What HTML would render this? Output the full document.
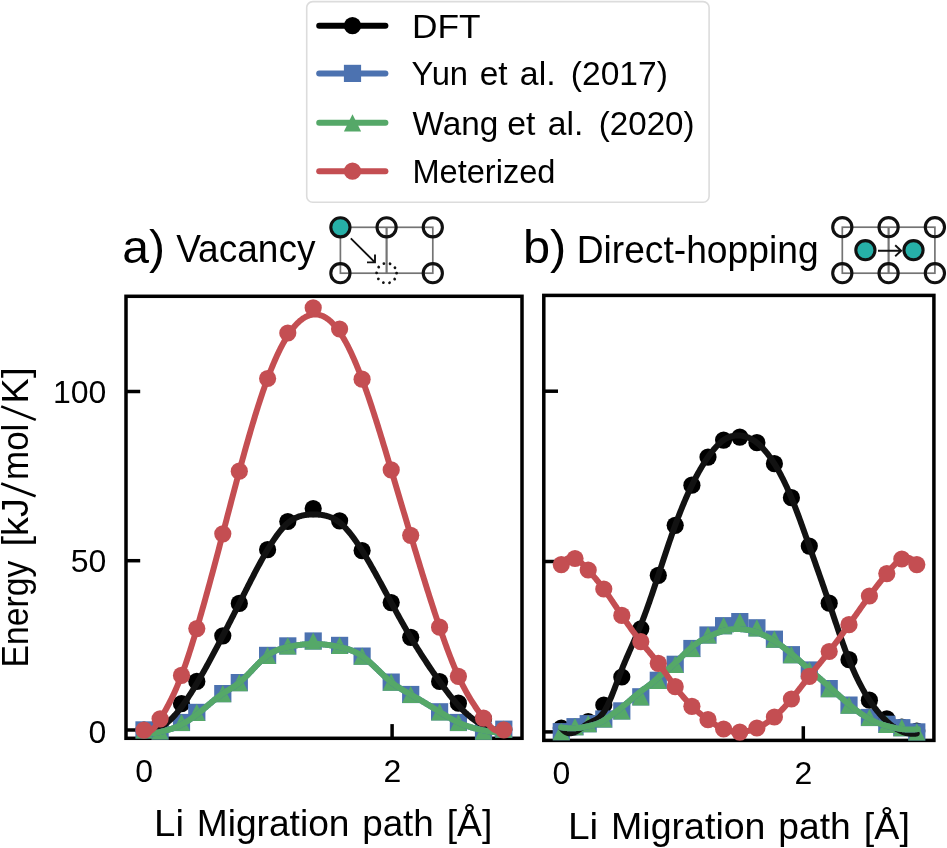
<!DOCTYPE html>
<html><head><meta charset="utf-8"><style>html,body{margin:0;padding:0;background:#fff;}svg{display:block;will-change:transform;}text{font-family:"Liberation Sans",sans-serif;fill:#000;}</style></head><body>
<svg width="947" height="848" viewBox="0 0 947 848">
<rect width="947" height="848" fill="#fff"/>
<rect x="306.7" y="1.6" width="402.4" height="200.7" rx="6" ry="6" fill="#fff" stroke="#dcdcdc" stroke-width="1.6"/>
<line x1="319.2" y1="25.7" x2="385.4" y2="25.7" stroke="#000000" stroke-width="6.0" stroke-linecap="round"/>
<circle cx="352.50" cy="25.70" r="8.60" fill="#000000"/>
<line x1="319.2" y1="73.4" x2="385.4" y2="73.4" stroke="#4C72B0" stroke-width="6.0" stroke-linecap="round"/>
<rect x="343.90" y="64.80" width="17.20" height="17.20" fill="#4C72B0"/>
<line x1="319.2" y1="122.8" x2="385.4" y2="122.8" stroke="#55A868" stroke-width="6.0" stroke-linecap="round"/>
<path d="M352.50,114.20 L343.90,131.40 L361.10,131.40 Z" fill="#55A868"/>
<line x1="319.2" y1="171.2" x2="385.4" y2="171.2" stroke="#C44E52" stroke-width="6.0" stroke-linecap="round"/>
<circle cx="352.50" cy="171.20" r="8.60" fill="#C44E52"/>
<text x="412.00" y="37.7" font-size="33.4" textLength="68.61" lengthAdjust="spacingAndGlyphs">DFT</text>
<text x="411.60" y="85.1" font-size="33.4" textLength="56.46" lengthAdjust="spacingAndGlyphs">Yun</text>
<text x="479.78" y="85.1" font-size="33.4" textLength="27.86" lengthAdjust="spacingAndGlyphs">et</text>
<text x="519.86" y="85.1" font-size="33.4" textLength="35.73" lengthAdjust="spacingAndGlyphs">al.</text>
<text x="570.82" y="85.1" font-size="33.4" textLength="97.06" lengthAdjust="spacingAndGlyphs">(2017)</text>
<text x="412.46" y="134.6" font-size="33.4" textLength="85.86" lengthAdjust="spacingAndGlyphs">Wang</text>
<text x="507.16" y="134.6" font-size="33.4" textLength="28.18" lengthAdjust="spacingAndGlyphs">et</text>
<text x="547.87" y="134.6" font-size="33.4" textLength="35.50" lengthAdjust="spacingAndGlyphs">al.</text>
<text x="598.74" y="134.6" font-size="33.4" textLength="95.81" lengthAdjust="spacingAndGlyphs">(2020)</text>
<text x="412.43" y="182.8" font-size="33.4" textLength="142.97" lengthAdjust="spacingAndGlyphs">Meterized</text>
<text x="122.26" y="262.8" font-size="46.8" textLength="42.72" lengthAdjust="spacingAndGlyphs">a)</text>
<text x="176.14" y="262.4" font-size="38.5" textLength="139.33" lengthAdjust="spacingAndGlyphs">Vacancy</text>
<text x="522.96" y="262.6" font-size="46.2" textLength="43.37" lengthAdjust="spacingAndGlyphs">b)</text>
<text x="576.65" y="262.7" font-size="38.4" textLength="241.95" lengthAdjust="spacingAndGlyphs">Direct-hopping</text>
<rect x="340.4" y="227.3" width="92.4" height="45.9" fill="none" stroke="#747474" stroke-width="1.7"/>
<line x1="386.59999999999997" y1="227.3" x2="386.59999999999997" y2="273.2" stroke="#747474" stroke-width="2.2"/>
<circle cx="386.6" cy="227.3" r="9.6" fill="none" stroke="#111" stroke-width="3.1"/>
<circle cx="432.8" cy="227.3" r="9.6" fill="none" stroke="#111" stroke-width="3.1"/>
<circle cx="340.4" cy="273.2" r="9.6" fill="none" stroke="#111" stroke-width="3.1"/>
<circle cx="432.8" cy="273.2" r="9.6" fill="none" stroke="#111" stroke-width="3.1"/>
<circle cx="340.4" cy="227.3" r="9.6" fill="#26B0A8" stroke="#111" stroke-width="3.1"/>
<circle cx="386.6" cy="273.2" r="10" fill="none" stroke="#111" stroke-width="2.8" stroke-linecap="round" stroke-dasharray="0.01 6.2832"/>
<path d="M350.8,238.4 L375,262.4 M367,262.4 L375,262.4 L375,254.6" fill="none" stroke="#111" stroke-width="1.9"/>
<rect x="842.3" y="227.2" width="92.6" height="46.0" fill="none" stroke="#747474" stroke-width="1.7"/>
<line x1="888.5999999999999" y1="227.2" x2="888.5999999999999" y2="273.2" stroke="#747474" stroke-width="2.2"/>
<circle cx="842.3" cy="227.2" r="9.6" fill="none" stroke="#111" stroke-width="3.1"/>
<circle cx="888.6" cy="227.2" r="9.6" fill="none" stroke="#111" stroke-width="3.1"/>
<circle cx="934.9" cy="227.2" r="9.6" fill="none" stroke="#111" stroke-width="3.1"/>
<circle cx="842.3" cy="273.2" r="9.6" fill="none" stroke="#111" stroke-width="3.1"/>
<circle cx="888.6" cy="273.2" r="9.6" fill="none" stroke="#111" stroke-width="3.1"/>
<circle cx="934.9" cy="273.2" r="9.6" fill="none" stroke="#111" stroke-width="3.1"/>
<circle cx="865.4" cy="250.2" r="9.6" fill="#26B0A8" stroke="#111" stroke-width="3.1"/>
<circle cx="913.5" cy="250.2" r="9.6" fill="#26B0A8" stroke="#111" stroke-width="3.1"/>
<path d="M878,250.7 L901.2,250.7 M895.2,245.2 L901.2,250.7 L895.2,256.2" fill="none" stroke="#111" stroke-width="1.9"/>
<rect x="126" y="296.3" width="396" height="441.99999999999994" fill="none" stroke="#000" stroke-width="3.5" stroke-linejoin="miter"/>
<line x1="126" y1="391.5" x2="140.2" y2="391.5" stroke="#000" stroke-width="3.5"/>
<line x1="126" y1="560.7" x2="140.2" y2="560.7" stroke="#000" stroke-width="3.5"/>
<line x1="126" y1="730.0" x2="140.2" y2="730.0" stroke="#000" stroke-width="3.5"/>
<line x1="144.1" y1="738.3" x2="144.1" y2="724.0999999999999" stroke="#000" stroke-width="3.5"/>
<line x1="392.1" y1="738.3" x2="392.1" y2="724.0999999999999" stroke="#000" stroke-width="3.5"/>
<rect x="543.8" y="295.4" width="390.1" height="445.0" fill="none" stroke="#000" stroke-width="3.5" stroke-linejoin="miter"/>
<line x1="543.8" y1="391.2" x2="558.0" y2="391.2" stroke="#000" stroke-width="3.5"/>
<line x1="543.8" y1="561.5" x2="558.0" y2="561.5" stroke="#000" stroke-width="3.5"/>
<line x1="543.8" y1="731.9" x2="558.0" y2="731.9" stroke="#000" stroke-width="3.5"/>
<line x1="561.5" y1="740.4" x2="561.5" y2="726.1999999999999" stroke="#000" stroke-width="3.5"/>
<line x1="803.3" y1="740.4" x2="803.3" y2="726.1999999999999" stroke="#000" stroke-width="3.5"/>
<circle cx="144.00" cy="730.00" r="8.60" fill="#000000"/>
<circle cx="160.10" cy="724.00" r="8.60" fill="#000000"/>
<circle cx="181.50" cy="703.70" r="8.60" fill="#000000"/>
<circle cx="196.80" cy="681.40" r="8.60" fill="#000000"/>
<circle cx="222.80" cy="635.80" r="8.60" fill="#000000"/>
<circle cx="239.30" cy="603.40" r="8.60" fill="#000000"/>
<circle cx="267.60" cy="549.70" r="8.60" fill="#000000"/>
<circle cx="287.80" cy="521.50" r="8.60" fill="#000000"/>
<circle cx="313.20" cy="508.60" r="8.60" fill="#000000"/>
<circle cx="339.60" cy="520.80" r="8.60" fill="#000000"/>
<circle cx="362.10" cy="550.60" r="8.60" fill="#000000"/>
<circle cx="391.20" cy="602.60" r="8.60" fill="#000000"/>
<circle cx="410.70" cy="637.30" r="8.60" fill="#000000"/>
<circle cx="439.60" cy="681.50" r="8.60" fill="#000000"/>
<circle cx="458.40" cy="703.20" r="8.60" fill="#000000"/>
<circle cx="483.50" cy="719.00" r="8.60" fill="#000000"/>
<circle cx="503.80" cy="729.80" r="8.60" fill="#000000"/>
<rect x="135.40" y="721.30" width="17.20" height="17.20" fill="#4C72B0"/>
<rect x="151.50" y="722.40" width="17.20" height="17.20" fill="#4C72B0"/>
<rect x="172.90" y="713.90" width="17.20" height="17.20" fill="#4C72B0"/>
<rect x="188.20" y="703.80" width="17.20" height="17.20" fill="#4C72B0"/>
<rect x="214.20" y="685.00" width="17.20" height="17.20" fill="#4C72B0"/>
<rect x="230.70" y="674.00" width="17.20" height="17.20" fill="#4C72B0"/>
<rect x="259.00" y="646.80" width="17.20" height="17.20" fill="#4C72B0"/>
<rect x="279.20" y="637.30" width="17.20" height="17.20" fill="#4C72B0"/>
<rect x="304.60" y="632.40" width="17.20" height="17.20" fill="#4C72B0"/>
<rect x="331.00" y="636.80" width="17.20" height="17.20" fill="#4C72B0"/>
<rect x="353.50" y="647.50" width="17.20" height="17.20" fill="#4C72B0"/>
<rect x="382.60" y="673.50" width="17.20" height="17.20" fill="#4C72B0"/>
<rect x="402.10" y="685.90" width="17.20" height="17.20" fill="#4C72B0"/>
<rect x="431.00" y="703.20" width="17.20" height="17.20" fill="#4C72B0"/>
<rect x="449.80" y="713.90" width="17.20" height="17.20" fill="#4C72B0"/>
<rect x="474.90" y="722.60" width="17.20" height="17.20" fill="#4C72B0"/>
<rect x="495.20" y="720.60" width="17.20" height="17.20" fill="#4C72B0"/>
<path d="M144.00,721.30 L135.40,738.50 L152.60,738.50 Z" fill="#55A868"/>
<path d="M160.10,722.40 L151.50,739.60 L168.70,739.60 Z" fill="#55A868"/>
<path d="M181.50,713.90 L172.90,731.10 L190.10,731.10 Z" fill="#55A868"/>
<path d="M196.80,703.80 L188.20,721.00 L205.40,721.00 Z" fill="#55A868"/>
<path d="M222.80,685.00 L214.20,702.20 L231.40,702.20 Z" fill="#55A868"/>
<path d="M239.30,674.00 L230.70,691.20 L247.90,691.20 Z" fill="#55A868"/>
<path d="M267.60,646.80 L259.00,664.00 L276.20,664.00 Z" fill="#55A868"/>
<path d="M287.80,637.30 L279.20,654.50 L296.40,654.50 Z" fill="#55A868"/>
<path d="M313.20,632.40 L304.60,649.60 L321.80,649.60 Z" fill="#55A868"/>
<path d="M339.60,636.80 L331.00,654.00 L348.20,654.00 Z" fill="#55A868"/>
<path d="M362.10,647.50 L353.50,664.70 L370.70,664.70 Z" fill="#55A868"/>
<path d="M391.20,673.50 L382.60,690.70 L399.80,690.70 Z" fill="#55A868"/>
<path d="M410.70,685.90 L402.10,703.10 L419.30,703.10 Z" fill="#55A868"/>
<path d="M439.60,703.20 L431.00,720.40 L448.20,720.40 Z" fill="#55A868"/>
<path d="M458.40,713.90 L449.80,731.10 L467.00,731.10 Z" fill="#55A868"/>
<path d="M483.50,722.60 L474.90,739.80 L492.10,739.80 Z" fill="#55A868"/>
<path d="M503.80,720.60 L495.20,737.80 L512.40,737.80 Z" fill="#55A868"/>
<circle cx="561.30" cy="728.00" r="8.60" fill="#000000"/>
<circle cx="575.00" cy="727.00" r="8.60" fill="#000000"/>
<circle cx="588.20" cy="721.70" r="8.60" fill="#000000"/>
<circle cx="603.80" cy="705.00" r="8.60" fill="#000000"/>
<circle cx="621.80" cy="677.00" r="8.60" fill="#000000"/>
<circle cx="640.80" cy="628.80" r="8.60" fill="#000000"/>
<circle cx="658.30" cy="575.30" r="8.60" fill="#000000"/>
<circle cx="675.20" cy="525.30" r="8.60" fill="#000000"/>
<circle cx="691.90" cy="485.20" r="8.60" fill="#000000"/>
<circle cx="708.00" cy="457.10" r="8.60" fill="#000000"/>
<circle cx="723.60" cy="440.10" r="8.60" fill="#000000"/>
<circle cx="739.80" cy="437.10" r="8.60" fill="#000000"/>
<circle cx="756.90" cy="442.70" r="8.60" fill="#000000"/>
<circle cx="774.40" cy="463.70" r="8.60" fill="#000000"/>
<circle cx="791.40" cy="497.70" r="8.60" fill="#000000"/>
<circle cx="809.30" cy="546.10" r="8.60" fill="#000000"/>
<circle cx="829.20" cy="603.20" r="8.60" fill="#000000"/>
<circle cx="849.00" cy="659.70" r="8.60" fill="#000000"/>
<circle cx="869.40" cy="700.20" r="8.60" fill="#000000"/>
<circle cx="886.80" cy="718.90" r="8.60" fill="#000000"/>
<circle cx="901.80" cy="727.00" r="8.60" fill="#000000"/>
<circle cx="916.80" cy="731.00" r="8.60" fill="#000000"/>
<rect x="552.70" y="723.10" width="17.20" height="17.20" fill="#4C72B0"/>
<rect x="566.40" y="718.10" width="17.20" height="17.20" fill="#4C72B0"/>
<rect x="579.60" y="715.10" width="17.20" height="17.20" fill="#4C72B0"/>
<rect x="595.20" y="710.40" width="17.20" height="17.20" fill="#4C72B0"/>
<rect x="613.20" y="702.30" width="17.20" height="17.20" fill="#4C72B0"/>
<rect x="632.20" y="688.20" width="17.20" height="17.20" fill="#4C72B0"/>
<rect x="649.70" y="671.70" width="17.20" height="17.20" fill="#4C72B0"/>
<rect x="666.60" y="655.70" width="17.20" height="17.20" fill="#4C72B0"/>
<rect x="683.30" y="639.90" width="17.20" height="17.20" fill="#4C72B0"/>
<rect x="699.40" y="626.40" width="17.20" height="17.20" fill="#4C72B0"/>
<rect x="715.00" y="617.10" width="17.20" height="17.20" fill="#4C72B0"/>
<rect x="731.20" y="613.00" width="17.20" height="17.20" fill="#4C72B0"/>
<rect x="748.30" y="619.20" width="17.20" height="17.20" fill="#4C72B0"/>
<rect x="765.80" y="630.60" width="17.20" height="17.20" fill="#4C72B0"/>
<rect x="782.80" y="646.10" width="17.20" height="17.20" fill="#4C72B0"/>
<rect x="800.70" y="661.40" width="17.20" height="17.20" fill="#4C72B0"/>
<rect x="820.60" y="680.00" width="17.20" height="17.20" fill="#4C72B0"/>
<rect x="840.40" y="696.50" width="17.20" height="17.20" fill="#4C72B0"/>
<rect x="860.80" y="708.90" width="17.20" height="17.20" fill="#4C72B0"/>
<rect x="878.20" y="715.70" width="17.20" height="17.20" fill="#4C72B0"/>
<rect x="893.20" y="719.10" width="17.20" height="17.20" fill="#4C72B0"/>
<rect x="908.20" y="723.30" width="17.20" height="17.20" fill="#4C72B0"/>
<path d="M561.30,723.10 L552.70,740.30 L569.90,740.30 Z" fill="#55A868"/>
<path d="M575.00,718.10 L566.40,735.30 L583.60,735.30 Z" fill="#55A868"/>
<path d="M588.20,715.10 L579.60,732.30 L596.80,732.30 Z" fill="#55A868"/>
<path d="M603.80,710.40 L595.20,727.60 L612.40,727.60 Z" fill="#55A868"/>
<path d="M621.80,702.30 L613.20,719.50 L630.40,719.50 Z" fill="#55A868"/>
<path d="M640.80,688.20 L632.20,705.40 L649.40,705.40 Z" fill="#55A868"/>
<path d="M658.30,671.70 L649.70,688.90 L666.90,688.90 Z" fill="#55A868"/>
<path d="M675.20,655.70 L666.60,672.90 L683.80,672.90 Z" fill="#55A868"/>
<path d="M691.90,639.90 L683.30,657.10 L700.50,657.10 Z" fill="#55A868"/>
<path d="M708.00,626.40 L699.40,643.60 L716.60,643.60 Z" fill="#55A868"/>
<path d="M723.60,617.10 L715.00,634.30 L732.20,634.30 Z" fill="#55A868"/>
<path d="M739.80,613.00 L731.20,630.20 L748.40,630.20 Z" fill="#55A868"/>
<path d="M756.90,619.20 L748.30,636.40 L765.50,636.40 Z" fill="#55A868"/>
<path d="M774.40,630.60 L765.80,647.80 L783.00,647.80 Z" fill="#55A868"/>
<path d="M791.40,646.10 L782.80,663.30 L800.00,663.30 Z" fill="#55A868"/>
<path d="M809.30,661.40 L800.70,678.60 L817.90,678.60 Z" fill="#55A868"/>
<path d="M829.20,680.00 L820.60,697.20 L837.80,697.20 Z" fill="#55A868"/>
<path d="M849.00,696.50 L840.40,713.70 L857.60,713.70 Z" fill="#55A868"/>
<path d="M869.40,708.90 L860.80,726.10 L878.00,726.10 Z" fill="#55A868"/>
<path d="M886.80,715.70 L878.20,732.90 L895.40,732.90 Z" fill="#55A868"/>
<path d="M901.80,719.10 L893.20,736.30 L910.40,736.30 Z" fill="#55A868"/>
<path d="M916.80,723.30 L908.20,740.50 L925.40,740.50 Z" fill="#55A868"/>
<path d="M144.00,731.00 L144.67,731.07 L145.33,731.11 L146.00,731.14 L146.67,731.15 L147.33,731.14 L148.00,731.12 L148.66,731.07 L149.33,731.01 L150.00,730.92 L150.66,730.82 L151.33,730.70 L152.00,730.56 L152.66,730.41 L153.33,730.23 L153.99,730.04 L154.66,729.83 L155.33,729.60 L155.99,729.36 L156.66,729.09 L157.33,728.81 L157.99,728.51 L158.66,728.19 L159.32,727.86 L159.99,727.50 L160.66,727.13 L161.32,726.75 L161.99,726.34 L162.66,725.92 L163.32,725.48 L163.99,725.02 L164.66,724.55 L165.32,724.05 L165.99,723.54 L166.65,723.02 L167.32,722.48 L167.99,721.91 L168.65,721.34 L169.32,720.74 L169.99,720.13 L170.65,719.50 L171.32,718.86 L171.98,718.20 L172.65,717.52 L173.32,716.83 L173.98,716.12 L174.65,715.39 L175.32,714.65 L175.98,713.89 L176.65,713.11 L177.31,712.32 L177.98,711.51 L178.65,710.69 L179.31,709.85 L179.98,709.00 L180.65,708.13 L181.31,707.25 L181.98,706.36 L182.65,705.45 L183.31,704.52 L183.98,703.59 L184.64,702.64 L185.31,701.68 L185.98,700.71 L186.64,699.72 L187.31,698.73 L187.98,697.72 L188.64,696.71 L189.31,695.68 L189.97,694.64 L190.64,693.59 L191.31,692.53 L191.97,691.47 L192.64,690.39 L193.31,689.31 L193.97,688.22 L194.64,687.12 L195.30,686.01 L195.97,684.90 L196.64,683.77 L197.30,682.65 L197.97,681.51 L198.64,680.37 L199.30,679.23 L199.97,678.07 L200.64,676.91 L201.30,675.75 L201.97,674.58 L202.63,673.40 L203.30,672.22 L203.97,671.04 L204.63,669.84 L205.30,668.65 L205.97,667.45 L206.63,666.24 L207.30,665.03 L207.96,663.81 L208.63,662.59 L209.30,661.37 L209.96,660.14 L210.63,658.91 L211.30,657.67 L211.96,656.43 L212.63,655.18 L213.29,653.94 L213.96,652.68 L214.63,651.43 L215.29,650.17 L215.96,648.91 L216.63,647.64 L217.29,646.38 L217.96,645.11 L218.63,643.83 L219.29,642.56 L219.96,641.28 L220.62,640.00 L221.29,638.71 L221.96,637.43 L222.62,636.14 L223.29,634.85 L223.96,633.56 L224.62,632.27 L225.29,630.98 L225.95,629.68 L226.62,628.38 L227.29,627.08 L227.95,625.78 L228.62,624.48 L229.29,623.17 L229.95,621.87 L230.62,620.56 L231.28,619.25 L231.95,617.94 L232.62,616.63 L233.28,615.32 L233.95,614.00 L234.62,612.69 L235.28,611.37 L235.95,610.05 L236.62,608.73 L237.28,607.41 L237.95,606.09 L238.61,604.76 L239.28,603.44 L239.95,602.11 L240.61,600.79 L241.28,599.46 L241.95,598.13 L242.61,596.80 L243.28,595.48 L243.94,594.15 L244.61,592.82 L245.28,591.50 L245.94,590.18 L246.61,588.85 L247.28,587.53 L247.94,586.22 L248.61,584.90 L249.27,583.59 L249.94,582.28 L250.61,580.97 L251.27,579.67 L251.94,578.37 L252.61,577.08 L253.27,575.79 L253.94,574.51 L254.61,573.23 L255.27,571.95 L255.94,570.69 L256.60,569.42 L257.27,568.17 L257.94,566.92 L258.60,565.67 L259.27,564.44 L259.94,563.21 L260.60,561.99 L261.27,560.78 L261.93,559.57 L262.60,558.38 L263.27,557.19 L263.93,556.01 L264.60,554.84 L265.27,553.68 L265.93,552.53 L266.60,551.39 L267.26,550.26 L267.93,549.15 L268.60,548.04 L269.26,546.94 L269.93,545.86 L270.60,544.79 L271.26,543.73 L271.93,542.69 L272.60,541.66 L273.26,540.64 L273.93,539.64 L274.59,538.66 L275.26,537.69 L275.93,536.73 L276.59,535.80 L277.26,534.88 L277.93,533.98 L278.59,533.09 L279.26,532.23 L279.92,531.38 L280.59,530.56 L281.26,529.75 L281.92,528.96 L282.59,528.20 L283.26,527.46 L283.92,526.74 L284.59,526.04 L285.25,525.36 L285.92,524.71 L286.59,524.08 L287.25,523.48 L287.92,522.90 L288.59,522.34 L289.25,521.81 L289.92,521.31 L290.59,520.82 L291.25,520.36 L291.92,519.93 L292.58,519.51 L293.25,519.12 L293.92,518.74 L294.58,518.39 L295.25,518.06 L295.92,517.74 L296.58,517.45 L297.25,517.17 L297.91,516.91 L298.58,516.67 L299.25,516.44 L299.91,516.23 L300.58,516.03 L301.25,515.85 L301.91,515.68 L302.58,515.53 L303.24,515.39 L303.91,515.26 L304.58,515.15 L305.24,515.04 L305.91,514.95 L306.58,514.87 L307.24,514.80 L307.91,514.73 L308.58,514.68 L309.24,514.63 L309.91,514.59 L310.57,514.56 L311.24,514.54 L311.91,514.52 L312.57,514.51 L313.24,514.50 L313.91,514.50 L314.57,514.50 L315.24,514.51 L315.90,514.52 L316.57,514.54 L317.24,514.57 L317.90,514.60 L318.57,514.64 L319.24,514.69 L319.90,514.75 L320.57,514.82 L321.23,514.89 L321.90,514.98 L322.57,515.08 L323.23,515.19 L323.90,515.31 L324.57,515.44 L325.23,515.58 L325.90,515.74 L326.57,515.91 L327.23,516.09 L327.90,516.29 L328.56,516.50 L329.23,516.72 L329.90,516.96 L330.56,517.22 L331.23,517.50 L331.90,517.79 L332.56,518.09 L333.23,518.42 L333.89,518.76 L334.56,519.12 L335.23,519.50 L335.89,519.90 L336.56,520.32 L337.23,520.76 L337.89,521.22 L338.56,521.70 L339.22,522.21 L339.89,522.73 L340.56,523.28 L341.22,523.85 L341.89,524.44 L342.56,525.05 L343.22,525.68 L343.89,526.34 L344.56,527.01 L345.22,527.70 L345.89,528.41 L346.55,529.14 L347.22,529.89 L347.89,530.66 L348.55,531.44 L349.22,532.24 L349.89,533.06 L350.55,533.90 L351.22,534.75 L351.88,535.61 L352.55,536.50 L353.22,537.39 L353.88,538.31 L354.55,539.23 L355.22,540.17 L355.88,541.12 L356.55,542.09 L357.21,543.07 L357.88,544.06 L358.55,545.06 L359.21,546.08 L359.88,547.11 L360.55,548.14 L361.21,549.19 L361.88,550.25 L362.55,551.31 L363.21,552.39 L363.88,553.48 L364.54,554.57 L365.21,555.67 L365.88,556.79 L366.54,557.91 L367.21,559.03 L367.88,560.17 L368.54,561.31 L369.21,562.46 L369.87,563.61 L370.54,564.78 L371.21,565.95 L371.87,567.12 L372.54,568.30 L373.21,569.49 L373.87,570.68 L374.54,571.87 L375.20,573.07 L375.87,574.28 L376.54,575.49 L377.20,576.70 L377.87,577.92 L378.54,579.14 L379.20,580.36 L379.87,581.59 L380.54,582.81 L381.20,584.04 L381.87,585.28 L382.53,586.51 L383.20,587.75 L383.87,588.98 L384.53,590.22 L385.20,591.46 L385.87,592.70 L386.53,593.94 L387.20,595.18 L387.86,596.41 L388.53,597.65 L389.20,598.89 L389.86,600.13 L390.53,601.36 L391.20,602.59 L391.86,603.82 L392.53,605.05 L393.19,606.28 L393.86,607.50 L394.53,608.72 L395.19,609.94 L395.86,611.16 L396.53,612.37 L397.19,613.58 L397.86,614.79 L398.53,616.00 L399.19,617.20 L399.86,618.39 L400.52,619.59 L401.19,620.78 L401.86,621.97 L402.52,623.15 L403.19,624.33 L403.86,625.50 L404.52,626.67 L405.19,627.84 L405.85,629.00 L406.52,630.16 L407.19,631.31 L407.85,632.46 L408.52,633.60 L409.19,634.74 L409.85,635.87 L410.52,636.99 L411.18,638.12 L411.85,639.23 L412.52,640.34 L413.18,641.45 L413.85,642.54 L414.52,643.64 L415.18,644.73 L415.85,645.81 L416.52,646.89 L417.18,647.96 L417.85,649.03 L418.51,650.10 L419.18,651.15 L419.85,652.21 L420.51,653.26 L421.18,654.30 L421.85,655.34 L422.51,656.38 L423.18,657.41 L423.84,658.43 L424.51,659.45 L425.18,660.47 L425.84,661.48 L426.51,662.49 L427.18,663.50 L427.84,664.49 L428.51,665.49 L429.17,666.48 L429.84,667.47 L430.51,668.45 L431.17,669.43 L431.84,670.41 L432.51,671.38 L433.17,672.35 L433.84,673.31 L434.51,674.27 L435.17,675.23 L435.84,676.18 L436.50,677.13 L437.17,678.08 L437.84,679.02 L438.50,679.96 L439.17,680.90 L439.84,681.83 L440.50,682.76 L441.17,683.68 L441.83,684.61 L442.50,685.52 L443.17,686.44 L443.83,687.35 L444.50,688.25 L445.17,689.15 L445.83,690.04 L446.50,690.93 L447.16,691.81 L447.83,692.69 L448.50,693.55 L449.16,694.42 L449.83,695.27 L450.50,696.12 L451.16,696.96 L451.83,697.79 L452.50,698.61 L453.16,699.42 L453.83,700.23 L454.49,701.03 L455.16,701.81 L455.83,702.59 L456.49,703.36 L457.16,704.12 L457.83,704.86 L458.49,705.60 L459.16,706.33 L459.82,707.04 L460.49,707.74 L461.16,708.44 L461.82,709.12 L462.49,709.79 L463.16,710.45 L463.82,711.10 L464.49,711.74 L465.15,712.37 L465.82,712.98 L466.49,713.59 L467.15,714.19 L467.82,714.77 L468.49,715.35 L469.15,715.91 L469.82,716.46 L470.49,717.01 L471.15,717.54 L471.82,718.06 L472.48,718.57 L473.15,719.07 L473.82,719.56 L474.48,720.04 L475.15,720.51 L475.82,720.97 L476.48,721.41 L477.15,721.85 L477.81,722.28 L478.48,722.69 L479.15,723.10 L479.81,723.50 L480.48,723.88 L481.15,724.26 L481.81,724.62 L482.48,724.98 L483.14,725.32 L483.81,725.65 L484.48,725.98 L485.14,726.29 L485.81,726.60 L486.48,726.89 L487.14,727.17 L487.81,727.44 L488.48,727.71 L489.14,727.96 L489.81,728.20 L490.47,728.43 L491.14,728.66 L491.81,728.87 L492.47,729.07 L493.14,729.26 L493.81,729.45 L494.47,729.62 L495.14,729.78 L495.80,729.93 L496.47,730.08 L497.14,730.21 L497.80,730.33 L498.47,730.45 L499.14,730.55 L499.80,730.64 L500.47,730.73 L501.13,730.80 L501.80,730.87 L502.47,730.92 L503.13,730.96 L503.80,731.00" fill="none" stroke="#121212" stroke-width="6.0" stroke-linecap="round" stroke-linejoin="round"/>
<path d="M141.50,727.80 L142.17,728.56 L142.83,729.25 L143.50,729.87 L144.16,730.44 L144.83,730.94 L145.50,731.39 L146.16,731.79 L146.83,732.13 L147.49,732.43 L148.16,732.67 L148.83,732.88 L149.49,733.04 L150.16,733.16 L150.82,733.25 L151.49,733.30 L152.16,733.32 L152.82,733.32 L153.49,733.28 L154.16,733.22 L154.82,733.14 L155.49,733.04 L156.15,732.92 L156.82,732.78 L157.49,732.64 L158.15,732.48 L158.82,732.32 L159.48,732.16 L160.15,731.99 L160.82,731.82 L161.48,731.65 L162.15,731.48 L162.81,731.31 L163.48,731.13 L164.15,730.96 L164.81,730.78 L165.48,730.60 L166.14,730.42 L166.81,730.23 L167.48,730.04 L168.14,729.85 L168.81,729.65 L169.47,729.44 L170.14,729.23 L170.81,729.02 L171.47,728.80 L172.14,728.57 L172.80,728.33 L173.47,728.09 L174.14,727.84 L174.80,727.58 L175.47,727.31 L176.14,727.03 L176.80,726.75 L177.47,726.46 L178.13,726.15 L178.80,725.84 L179.47,725.53 L180.13,725.20 L180.80,724.86 L181.46,724.52 L182.13,724.17 L182.80,723.81 L183.46,723.44 L184.13,723.06 L184.79,722.68 L185.46,722.29 L186.13,721.89 L186.79,721.48 L187.46,721.07 L188.12,720.64 L188.79,720.21 L189.46,719.78 L190.12,719.33 L190.79,718.88 L191.45,718.42 L192.12,717.96 L192.79,717.49 L193.45,717.01 L194.12,716.52 L194.78,716.03 L195.45,715.53 L196.12,715.02 L196.78,714.51 L197.45,714.00 L198.11,713.47 L198.78,712.94 L199.45,712.41 L200.11,711.87 L200.78,711.33 L201.45,710.78 L202.11,710.23 L202.78,709.67 L203.44,709.12 L204.11,708.56 L204.78,708.00 L205.44,707.44 L206.11,706.87 L206.77,706.31 L207.44,705.75 L208.11,705.18 L208.77,704.62 L209.44,704.06 L210.10,703.50 L210.77,702.94 L211.44,702.38 L212.10,701.82 L212.77,701.27 L213.43,700.72 L214.10,700.18 L214.77,699.64 L215.43,699.10 L216.10,698.57 L216.76,698.05 L217.43,697.53 L218.10,697.01 L218.76,696.51 L219.43,696.01 L220.09,695.52 L220.76,695.03 L221.43,694.55 L222.09,694.09 L222.76,693.63 L223.43,693.18 L224.09,692.74 L224.76,692.30 L225.42,691.88 L226.09,691.45 L226.76,691.04 L227.42,690.62 L228.09,690.21 L228.75,689.80 L229.42,689.39 L230.09,688.97 L230.75,688.56 L231.42,688.14 L232.08,687.72 L232.75,687.29 L233.42,686.86 L234.08,686.42 L234.75,685.97 L235.41,685.51 L236.08,685.04 L236.75,684.56 L237.41,684.07 L238.08,683.57 L238.74,683.05 L239.41,682.51 L240.08,681.96 L240.74,681.39 L241.41,680.81 L242.07,680.21 L242.74,679.60 L243.41,678.98 L244.07,678.35 L244.74,677.70 L245.41,677.05 L246.07,676.39 L246.74,675.72 L247.40,675.04 L248.07,674.36 L248.74,673.67 L249.40,672.98 L250.07,672.28 L250.73,671.58 L251.40,670.87 L252.07,670.17 L252.73,669.47 L253.40,668.76 L254.06,668.06 L254.73,667.36 L255.40,666.66 L256.06,665.97 L256.73,665.28 L257.39,664.60 L258.06,663.92 L258.73,663.25 L259.39,662.58 L260.06,661.93 L260.72,661.29 L261.39,660.65 L262.06,660.03 L262.72,659.42 L263.39,658.82 L264.05,658.24 L264.72,657.67 L265.39,657.12 L266.05,656.58 L266.72,656.06 L267.39,655.56 L268.05,655.07 L268.72,654.61 L269.38,654.16 L270.05,653.74 L270.72,653.32 L271.38,652.93 L272.05,652.55 L272.71,652.19 L273.38,651.84 L274.05,651.51 L274.71,651.19 L275.38,650.88 L276.04,650.59 L276.71,650.31 L277.38,650.04 L278.04,649.78 L278.71,649.54 L279.37,649.30 L280.04,649.08 L280.71,648.86 L281.37,648.65 L282.04,648.45 L282.70,648.26 L283.37,648.08 L284.04,647.90 L284.70,647.73 L285.37,647.56 L286.03,647.40 L286.70,647.25 L287.37,647.10 L288.03,646.95 L288.70,646.80 L289.36,646.66 L290.03,646.52 L290.70,646.39 L291.36,646.26 L292.03,646.13 L292.70,646.01 L293.36,645.88 L294.03,645.77 L294.69,645.65 L295.36,645.54 L296.03,645.43 L296.69,645.33 L297.36,645.23 L298.02,645.14 L298.69,645.04 L299.36,644.95 L300.02,644.87 L300.69,644.79 L301.35,644.71 L302.02,644.64 L302.69,644.57 L303.35,644.50 L304.02,644.44 L304.68,644.38 L305.35,644.33 L306.02,644.28 L306.68,644.23 L307.35,644.19 L308.01,644.15 L308.68,644.12 L309.35,644.09 L310.01,644.06 L310.68,644.04 L311.34,644.02 L312.01,644.01 L312.68,644.00 L313.34,644.00 L314.01,644.00 L314.68,644.00 L315.34,644.01 L316.01,644.03 L316.67,644.04 L317.34,644.06 L318.01,644.09 L318.67,644.12 L319.34,644.15 L320.00,644.19 L320.67,644.23 L321.34,644.28 L322.00,644.33 L322.67,644.38 L323.33,644.44 L324.00,644.50 L324.67,644.57 L325.33,644.64 L326.00,644.71 L326.66,644.79 L327.33,644.87 L328.00,644.95 L328.66,645.04 L329.33,645.13 L329.99,645.23 L330.66,645.33 L331.33,645.43 L331.99,645.54 L332.66,645.65 L333.32,645.76 L333.99,645.88 L334.66,646.00 L335.32,646.12 L335.99,646.25 L336.66,646.38 L337.32,646.52 L337.99,646.65 L338.65,646.79 L339.32,646.94 L339.99,647.09 L340.65,647.24 L341.32,647.39 L341.98,647.55 L342.65,647.71 L343.32,647.88 L343.98,648.05 L344.65,648.23 L345.31,648.42 L345.98,648.61 L346.65,648.81 L347.31,649.01 L347.98,649.22 L348.64,649.44 L349.31,649.67 L349.98,649.91 L350.64,650.15 L351.31,650.41 L351.97,650.67 L352.64,650.94 L353.31,651.23 L353.97,651.52 L354.64,651.83 L355.30,652.14 L355.97,652.47 L356.64,652.81 L357.30,653.16 L357.97,653.53 L358.64,653.91 L359.30,654.30 L359.97,654.71 L360.63,655.12 L361.30,655.56 L361.97,656.01 L362.63,656.47 L363.30,656.95 L363.96,657.44 L364.63,657.95 L365.30,658.47 L365.96,659.00 L366.63,659.54 L367.29,660.10 L367.96,660.66 L368.63,661.24 L369.29,661.82 L369.96,662.41 L370.62,663.01 L371.29,663.62 L371.96,664.23 L372.62,664.85 L373.29,665.48 L373.95,666.11 L374.62,666.74 L375.29,667.38 L375.95,668.02 L376.62,668.67 L377.28,669.31 L377.95,669.96 L378.62,670.61 L379.28,671.25 L379.95,671.90 L380.61,672.54 L381.28,673.18 L381.95,673.82 L382.61,674.46 L383.28,675.09 L383.95,675.72 L384.61,676.34 L385.28,676.96 L385.94,677.57 L386.61,678.18 L387.28,678.77 L387.94,679.36 L388.61,679.94 L389.27,680.51 L389.94,681.07 L390.61,681.62 L391.27,682.16 L391.94,682.68 L392.60,683.20 L393.27,683.70 L393.94,684.20 L394.60,684.68 L395.27,685.15 L395.93,685.62 L396.60,686.07 L397.27,686.52 L397.93,686.96 L398.60,687.39 L399.26,687.82 L399.93,688.24 L400.60,688.65 L401.26,689.06 L401.93,689.46 L402.59,689.86 L403.26,690.25 L403.93,690.64 L404.59,691.03 L405.26,691.41 L405.93,691.79 L406.59,692.17 L407.26,692.55 L407.92,692.93 L408.59,693.31 L409.26,693.68 L409.92,694.06 L410.59,694.44 L411.25,694.81 L411.92,695.19 L412.59,695.58 L413.25,695.96 L413.92,696.34 L414.58,696.73 L415.25,697.11 L415.92,697.50 L416.58,697.89 L417.25,698.28 L417.91,698.67 L418.58,699.06 L419.25,699.45 L419.91,699.85 L420.58,700.24 L421.24,700.63 L421.91,701.03 L422.58,701.43 L423.24,701.83 L423.91,702.22 L424.57,702.62 L425.24,703.02 L425.91,703.43 L426.57,703.83 L427.24,704.23 L427.91,704.63 L428.57,705.04 L429.24,705.44 L429.90,705.85 L430.57,706.25 L431.24,706.66 L431.90,707.07 L432.57,707.47 L433.23,707.88 L433.90,708.29 L434.57,708.70 L435.23,709.11 L435.90,709.52 L436.56,709.93 L437.23,710.34 L437.90,710.75 L438.56,711.16 L439.23,711.57 L439.89,711.98 L440.56,712.39 L441.23,712.80 L441.89,713.22 L442.56,713.63 L443.22,714.04 L443.89,714.44 L444.56,714.85 L445.22,715.25 L445.89,715.66 L446.55,716.06 L447.22,716.46 L447.89,716.85 L448.55,717.24 L449.22,717.63 L449.89,718.02 L450.55,718.40 L451.22,718.77 L451.88,719.15 L452.55,719.51 L453.22,719.88 L453.88,720.23 L454.55,720.59 L455.21,720.93 L455.88,721.27 L456.55,721.61 L457.21,721.93 L457.88,722.25 L458.54,722.57 L459.21,722.87 L459.88,723.17 L460.54,723.46 L461.21,723.75 L461.87,724.03 L462.54,724.30 L463.21,724.56 L463.87,724.82 L464.54,725.08 L465.20,725.32 L465.87,725.56 L466.54,725.80 L467.20,726.03 L467.87,726.26 L468.53,726.48 L469.20,726.69 L469.87,726.90 L470.53,727.11 L471.20,727.31 L471.86,727.50 L472.53,727.70 L473.20,727.88 L473.86,728.07 L474.53,728.25 L475.20,728.43 L475.86,728.60 L476.53,728.77 L477.19,728.94 L477.86,729.10 L478.53,729.27 L479.19,729.42 L479.86,729.58 L480.52,729.74 L481.19,729.89 L481.86,730.04 L482.52,730.19 L483.19,730.33 L483.85,730.48 L484.52,730.62 L485.19,730.76 L485.85,730.90 L486.52,731.03 L487.18,731.16 L487.85,731.29 L488.52,731.41 L489.18,731.52 L489.85,731.63 L490.51,731.73 L491.18,731.82 L491.85,731.90 L492.51,731.98 L493.18,732.04 L493.84,732.10 L494.51,732.14 L495.18,732.17 L495.84,732.19 L496.51,732.20 L497.18,732.20 L497.84,732.18 L498.51,732.14 L499.17,732.10 L499.84,732.03 L500.51,731.95 L501.17,731.85 L501.84,731.74 L502.50,731.61 L503.17,731.46 L503.84,731.29 L504.50,731.10 L505.17,730.88 L505.83,730.65 L506.50,730.40" fill="none" stroke="#4C72B0" stroke-width="6.0" stroke-linecap="round" stroke-linejoin="round"/>
<path d="M141.50,727.80 L142.17,728.56 L142.83,729.25 L143.50,729.87 L144.16,730.44 L144.83,730.94 L145.50,731.39 L146.16,731.79 L146.83,732.13 L147.49,732.43 L148.16,732.67 L148.83,732.88 L149.49,733.04 L150.16,733.16 L150.82,733.25 L151.49,733.30 L152.16,733.32 L152.82,733.32 L153.49,733.28 L154.16,733.22 L154.82,733.14 L155.49,733.04 L156.15,732.92 L156.82,732.78 L157.49,732.64 L158.15,732.48 L158.82,732.32 L159.48,732.16 L160.15,731.99 L160.82,731.82 L161.48,731.65 L162.15,731.48 L162.81,731.31 L163.48,731.13 L164.15,730.96 L164.81,730.78 L165.48,730.60 L166.14,730.42 L166.81,730.23 L167.48,730.04 L168.14,729.85 L168.81,729.65 L169.47,729.44 L170.14,729.23 L170.81,729.02 L171.47,728.80 L172.14,728.57 L172.80,728.33 L173.47,728.09 L174.14,727.84 L174.80,727.58 L175.47,727.31 L176.14,727.03 L176.80,726.75 L177.47,726.46 L178.13,726.15 L178.80,725.84 L179.47,725.53 L180.13,725.20 L180.80,724.86 L181.46,724.52 L182.13,724.17 L182.80,723.81 L183.46,723.44 L184.13,723.06 L184.79,722.68 L185.46,722.29 L186.13,721.89 L186.79,721.48 L187.46,721.07 L188.12,720.64 L188.79,720.21 L189.46,719.78 L190.12,719.33 L190.79,718.88 L191.45,718.42 L192.12,717.96 L192.79,717.49 L193.45,717.01 L194.12,716.52 L194.78,716.03 L195.45,715.53 L196.12,715.02 L196.78,714.51 L197.45,714.00 L198.11,713.47 L198.78,712.94 L199.45,712.41 L200.11,711.87 L200.78,711.33 L201.45,710.78 L202.11,710.23 L202.78,709.67 L203.44,709.12 L204.11,708.56 L204.78,708.00 L205.44,707.44 L206.11,706.87 L206.77,706.31 L207.44,705.75 L208.11,705.18 L208.77,704.62 L209.44,704.06 L210.10,703.50 L210.77,702.94 L211.44,702.38 L212.10,701.82 L212.77,701.27 L213.43,700.72 L214.10,700.18 L214.77,699.64 L215.43,699.10 L216.10,698.57 L216.76,698.05 L217.43,697.53 L218.10,697.01 L218.76,696.51 L219.43,696.01 L220.09,695.52 L220.76,695.03 L221.43,694.55 L222.09,694.09 L222.76,693.63 L223.43,693.18 L224.09,692.74 L224.76,692.30 L225.42,691.88 L226.09,691.45 L226.76,691.04 L227.42,690.62 L228.09,690.21 L228.75,689.80 L229.42,689.39 L230.09,688.97 L230.75,688.56 L231.42,688.14 L232.08,687.72 L232.75,687.29 L233.42,686.86 L234.08,686.42 L234.75,685.97 L235.41,685.51 L236.08,685.04 L236.75,684.56 L237.41,684.07 L238.08,683.57 L238.74,683.05 L239.41,682.51 L240.08,681.96 L240.74,681.39 L241.41,680.81 L242.07,680.21 L242.74,679.60 L243.41,678.98 L244.07,678.35 L244.74,677.70 L245.41,677.05 L246.07,676.39 L246.74,675.72 L247.40,675.04 L248.07,674.36 L248.74,673.67 L249.40,672.98 L250.07,672.28 L250.73,671.58 L251.40,670.87 L252.07,670.17 L252.73,669.47 L253.40,668.76 L254.06,668.06 L254.73,667.36 L255.40,666.66 L256.06,665.97 L256.73,665.28 L257.39,664.60 L258.06,663.92 L258.73,663.25 L259.39,662.58 L260.06,661.93 L260.72,661.29 L261.39,660.65 L262.06,660.03 L262.72,659.42 L263.39,658.82 L264.05,658.24 L264.72,657.67 L265.39,657.12 L266.05,656.58 L266.72,656.06 L267.39,655.56 L268.05,655.07 L268.72,654.61 L269.38,654.16 L270.05,653.74 L270.72,653.32 L271.38,652.93 L272.05,652.55 L272.71,652.19 L273.38,651.84 L274.05,651.51 L274.71,651.19 L275.38,650.88 L276.04,650.59 L276.71,650.31 L277.38,650.04 L278.04,649.78 L278.71,649.54 L279.37,649.30 L280.04,649.08 L280.71,648.86 L281.37,648.65 L282.04,648.45 L282.70,648.26 L283.37,648.08 L284.04,647.90 L284.70,647.73 L285.37,647.56 L286.03,647.40 L286.70,647.25 L287.37,647.10 L288.03,646.95 L288.70,646.80 L289.36,646.66 L290.03,646.52 L290.70,646.39 L291.36,646.26 L292.03,646.13 L292.70,646.01 L293.36,645.88 L294.03,645.77 L294.69,645.65 L295.36,645.54 L296.03,645.43 L296.69,645.33 L297.36,645.23 L298.02,645.14 L298.69,645.04 L299.36,644.95 L300.02,644.87 L300.69,644.79 L301.35,644.71 L302.02,644.64 L302.69,644.57 L303.35,644.50 L304.02,644.44 L304.68,644.38 L305.35,644.33 L306.02,644.28 L306.68,644.23 L307.35,644.19 L308.01,644.15 L308.68,644.12 L309.35,644.09 L310.01,644.06 L310.68,644.04 L311.34,644.02 L312.01,644.01 L312.68,644.00 L313.34,644.00 L314.01,644.00 L314.68,644.00 L315.34,644.01 L316.01,644.03 L316.67,644.04 L317.34,644.06 L318.01,644.09 L318.67,644.12 L319.34,644.15 L320.00,644.19 L320.67,644.23 L321.34,644.28 L322.00,644.33 L322.67,644.38 L323.33,644.44 L324.00,644.50 L324.67,644.57 L325.33,644.64 L326.00,644.71 L326.66,644.79 L327.33,644.87 L328.00,644.95 L328.66,645.04 L329.33,645.13 L329.99,645.23 L330.66,645.33 L331.33,645.43 L331.99,645.54 L332.66,645.65 L333.32,645.76 L333.99,645.88 L334.66,646.00 L335.32,646.12 L335.99,646.25 L336.66,646.38 L337.32,646.52 L337.99,646.65 L338.65,646.79 L339.32,646.94 L339.99,647.09 L340.65,647.24 L341.32,647.39 L341.98,647.55 L342.65,647.71 L343.32,647.88 L343.98,648.05 L344.65,648.23 L345.31,648.42 L345.98,648.61 L346.65,648.81 L347.31,649.01 L347.98,649.22 L348.64,649.44 L349.31,649.67 L349.98,649.91 L350.64,650.15 L351.31,650.41 L351.97,650.67 L352.64,650.94 L353.31,651.23 L353.97,651.52 L354.64,651.83 L355.30,652.14 L355.97,652.47 L356.64,652.81 L357.30,653.16 L357.97,653.53 L358.64,653.91 L359.30,654.30 L359.97,654.71 L360.63,655.12 L361.30,655.56 L361.97,656.01 L362.63,656.47 L363.30,656.95 L363.96,657.44 L364.63,657.95 L365.30,658.47 L365.96,659.00 L366.63,659.54 L367.29,660.10 L367.96,660.66 L368.63,661.24 L369.29,661.82 L369.96,662.41 L370.62,663.01 L371.29,663.62 L371.96,664.23 L372.62,664.85 L373.29,665.48 L373.95,666.11 L374.62,666.74 L375.29,667.38 L375.95,668.02 L376.62,668.67 L377.28,669.31 L377.95,669.96 L378.62,670.61 L379.28,671.25 L379.95,671.90 L380.61,672.54 L381.28,673.18 L381.95,673.82 L382.61,674.46 L383.28,675.09 L383.95,675.72 L384.61,676.34 L385.28,676.96 L385.94,677.57 L386.61,678.18 L387.28,678.77 L387.94,679.36 L388.61,679.94 L389.27,680.51 L389.94,681.07 L390.61,681.62 L391.27,682.16 L391.94,682.68 L392.60,683.20 L393.27,683.70 L393.94,684.20 L394.60,684.68 L395.27,685.15 L395.93,685.62 L396.60,686.07 L397.27,686.52 L397.93,686.96 L398.60,687.39 L399.26,687.82 L399.93,688.24 L400.60,688.65 L401.26,689.06 L401.93,689.46 L402.59,689.86 L403.26,690.25 L403.93,690.64 L404.59,691.03 L405.26,691.41 L405.93,691.79 L406.59,692.17 L407.26,692.55 L407.92,692.93 L408.59,693.31 L409.26,693.68 L409.92,694.06 L410.59,694.44 L411.25,694.81 L411.92,695.19 L412.59,695.58 L413.25,695.96 L413.92,696.34 L414.58,696.73 L415.25,697.11 L415.92,697.50 L416.58,697.89 L417.25,698.28 L417.91,698.67 L418.58,699.06 L419.25,699.45 L419.91,699.85 L420.58,700.24 L421.24,700.63 L421.91,701.03 L422.58,701.43 L423.24,701.83 L423.91,702.22 L424.57,702.62 L425.24,703.02 L425.91,703.43 L426.57,703.83 L427.24,704.23 L427.91,704.63 L428.57,705.04 L429.24,705.44 L429.90,705.85 L430.57,706.25 L431.24,706.66 L431.90,707.07 L432.57,707.47 L433.23,707.88 L433.90,708.29 L434.57,708.70 L435.23,709.11 L435.90,709.52 L436.56,709.93 L437.23,710.34 L437.90,710.75 L438.56,711.16 L439.23,711.57 L439.89,711.98 L440.56,712.39 L441.23,712.80 L441.89,713.22 L442.56,713.63 L443.22,714.04 L443.89,714.44 L444.56,714.85 L445.22,715.25 L445.89,715.66 L446.55,716.06 L447.22,716.46 L447.89,716.85 L448.55,717.24 L449.22,717.63 L449.89,718.02 L450.55,718.40 L451.22,718.77 L451.88,719.15 L452.55,719.51 L453.22,719.88 L453.88,720.23 L454.55,720.59 L455.21,720.93 L455.88,721.27 L456.55,721.61 L457.21,721.93 L457.88,722.25 L458.54,722.57 L459.21,722.87 L459.88,723.17 L460.54,723.46 L461.21,723.75 L461.87,724.03 L462.54,724.30 L463.21,724.56 L463.87,724.82 L464.54,725.08 L465.20,725.32 L465.87,725.56 L466.54,725.80 L467.20,726.03 L467.87,726.26 L468.53,726.48 L469.20,726.69 L469.87,726.90 L470.53,727.11 L471.20,727.31 L471.86,727.50 L472.53,727.70 L473.20,727.88 L473.86,728.07 L474.53,728.25 L475.20,728.43 L475.86,728.60 L476.53,728.77 L477.19,728.94 L477.86,729.10 L478.53,729.27 L479.19,729.42 L479.86,729.58 L480.52,729.74 L481.19,729.89 L481.86,730.04 L482.52,730.19 L483.19,730.33 L483.85,730.48 L484.52,730.62 L485.19,730.76 L485.85,730.90 L486.52,731.03 L487.18,731.16 L487.85,731.29 L488.52,731.41 L489.18,731.52 L489.85,731.63 L490.51,731.73 L491.18,731.82 L491.85,731.90 L492.51,731.98 L493.18,732.04 L493.84,732.10 L494.51,732.14 L495.18,732.17 L495.84,732.19 L496.51,732.20 L497.18,732.20 L497.84,732.18 L498.51,732.14 L499.17,732.10 L499.84,732.03 L500.51,731.95 L501.17,731.85 L501.84,731.74 L502.50,731.61 L503.17,731.46 L503.84,731.29 L504.50,731.10 L505.17,730.88 L505.83,730.65 L506.50,730.40" fill="none" stroke="#55A868" stroke-width="6.0" stroke-linecap="round" stroke-linejoin="round"/>
<path d="M142.00,726.50 L142.67,727.59 L143.33,728.54 L144.00,729.35 L144.67,730.02 L145.33,730.56 L146.00,730.97 L146.66,731.26 L147.33,731.44 L148.00,731.50 L148.66,731.46 L149.33,731.32 L150.00,731.08 L150.66,730.75 L151.33,730.34 L152.00,729.84 L152.66,729.27 L153.33,728.63 L153.99,727.93 L154.66,727.16 L155.33,726.34 L155.99,725.47 L156.66,724.55 L157.33,723.59 L157.99,722.60 L158.66,721.58 L159.33,720.53 L159.99,719.46 L160.66,718.38 L161.32,717.28 L161.99,716.18 L162.66,715.06 L163.32,713.92 L163.99,712.77 L164.66,711.61 L165.32,710.43 L165.99,709.23 L166.66,708.02 L167.32,706.79 L167.99,705.54 L168.65,704.27 L169.32,702.99 L169.99,701.68 L170.65,700.36 L171.32,699.01 L171.99,697.64 L172.65,696.25 L173.32,694.84 L173.99,693.40 L174.65,691.94 L175.32,690.45 L175.98,688.94 L176.65,687.41 L177.32,685.85 L177.98,684.26 L178.65,682.64 L179.32,680.99 L179.98,679.32 L180.65,677.62 L181.32,675.89 L181.98,674.12 L182.65,672.33 L183.31,670.51 L183.98,668.66 L184.65,666.78 L185.31,664.87 L185.98,662.94 L186.65,660.99 L187.31,659.00 L187.98,657.00 L188.65,654.97 L189.31,652.92 L189.98,650.85 L190.64,648.76 L191.31,646.65 L191.98,644.52 L192.64,642.37 L193.31,640.20 L193.98,638.02 L194.64,635.82 L195.31,633.60 L195.98,631.38 L196.64,629.13 L197.31,626.88 L197.97,624.61 L198.64,622.33 L199.31,620.04 L199.97,617.74 L200.64,615.43 L201.31,613.10 L201.97,610.77 L202.64,608.42 L203.31,606.07 L203.97,603.70 L204.64,601.33 L205.30,598.94 L205.97,596.55 L206.64,594.14 L207.30,591.73 L207.97,589.31 L208.64,586.88 L209.30,584.45 L209.97,582.00 L210.64,579.55 L211.30,577.09 L211.97,574.63 L212.63,572.15 L213.30,569.67 L213.97,567.19 L214.63,564.70 L215.30,562.20 L215.97,559.70 L216.63,557.19 L217.30,554.68 L217.97,552.17 L218.63,549.65 L219.30,547.12 L219.96,544.59 L220.63,542.06 L221.30,539.53 L221.96,536.99 L222.63,534.45 L223.30,531.91 L223.96,529.36 L224.63,526.81 L225.30,524.27 L225.96,521.72 L226.63,519.17 L227.29,516.62 L227.96,514.07 L228.63,511.52 L229.29,508.97 L229.96,506.43 L230.63,503.89 L231.29,501.35 L231.96,498.81 L232.63,496.28 L233.29,493.75 L233.96,491.23 L234.62,488.71 L235.29,486.19 L235.96,483.68 L236.62,481.18 L237.29,478.68 L237.96,476.20 L238.62,473.71 L239.29,471.24 L239.96,468.78 L240.62,466.32 L241.29,463.87 L241.95,461.44 L242.62,459.01 L243.29,456.59 L243.95,454.18 L244.62,451.79 L245.29,449.40 L245.95,447.03 L246.62,444.67 L247.29,442.32 L247.95,439.98 L248.62,437.66 L249.28,435.35 L249.95,433.05 L250.62,430.77 L251.28,428.50 L251.95,426.25 L252.62,424.01 L253.28,421.79 L253.95,419.59 L254.62,417.40 L255.28,415.22 L255.95,413.07 L256.61,410.93 L257.28,408.81 L257.95,406.71 L258.61,404.62 L259.28,402.56 L259.95,400.51 L260.61,398.48 L261.28,396.48 L261.95,394.49 L262.61,392.53 L263.28,390.58 L263.94,388.66 L264.61,386.76 L265.28,384.88 L265.94,383.02 L266.61,381.18 L267.28,379.37 L267.94,377.58 L268.61,375.82 L269.28,374.08 L269.94,372.36 L270.61,370.67 L271.27,369.00 L271.94,367.36 L272.61,365.74 L273.27,364.14 L273.94,362.57 L274.61,361.02 L275.27,359.50 L275.94,358.00 L276.61,356.52 L277.27,355.07 L277.94,353.65 L278.60,352.25 L279.27,350.87 L279.94,349.52 L280.60,348.20 L281.27,346.90 L281.94,345.62 L282.60,344.37 L283.27,343.15 L283.94,341.95 L284.60,340.78 L285.27,339.63 L285.93,338.51 L286.60,337.41 L287.27,336.34 L287.93,335.29 L288.60,334.27 L289.27,333.28 L289.93,332.31 L290.60,331.37 L291.27,330.45 L291.93,329.56 L292.60,328.70 L293.26,327.86 L293.93,327.04 L294.60,326.26 L295.26,325.49 L295.93,324.76 L296.60,324.05 L297.26,323.36 L297.93,322.70 L298.60,322.07 L299.26,321.46 L299.93,320.87 L300.59,320.31 L301.26,319.78 L301.93,319.27 L302.59,318.79 L303.26,318.33 L303.93,317.90 L304.59,317.49 L305.26,317.11 L305.93,316.76 L306.59,316.43 L307.26,316.12 L307.92,315.84 L308.59,315.58 L309.26,315.35 L309.92,315.15 L310.59,314.97 L311.26,314.81 L311.92,314.68 L312.59,314.58 L313.26,314.49 L313.92,314.44 L314.59,314.41 L315.25,314.40 L315.92,314.42 L316.59,314.47 L317.25,314.54 L317.92,314.63 L318.59,314.75 L319.25,314.90 L319.92,315.07 L320.59,315.27 L321.25,315.49 L321.92,315.74 L322.58,316.01 L323.25,316.31 L323.92,316.64 L324.58,316.99 L325.25,317.37 L325.92,317.77 L326.58,318.20 L327.25,318.66 L327.91,319.15 L328.58,319.66 L329.25,320.19 L329.91,320.76 L330.58,321.35 L331.25,321.96 L331.91,322.61 L332.58,323.28 L333.25,323.98 L333.91,324.70 L334.58,325.45 L335.24,326.23 L335.91,327.04 L336.58,327.87 L337.24,328.73 L337.91,329.62 L338.58,330.54 L339.24,331.48 L339.91,332.45 L340.58,333.45 L341.24,334.48 L341.91,335.54 L342.57,336.62 L343.24,337.72 L343.91,338.86 L344.57,340.02 L345.24,341.21 L345.91,342.42 L346.57,343.66 L347.24,344.92 L347.91,346.21 L348.57,347.52 L349.24,348.86 L349.90,350.22 L350.57,351.61 L351.24,353.02 L351.90,354.45 L352.57,355.91 L353.24,357.39 L353.90,358.90 L354.57,360.42 L355.24,361.97 L355.90,363.55 L356.57,365.14 L357.23,366.76 L357.90,368.40 L358.57,370.05 L359.23,371.74 L359.90,373.44 L360.57,375.16 L361.23,376.90 L361.90,378.67 L362.57,380.45 L363.23,382.25 L363.90,384.07 L364.56,385.91 L365.23,387.77 L365.90,389.65 L366.56,391.55 L367.23,393.46 L367.90,395.39 L368.56,397.33 L369.23,399.29 L369.90,401.27 L370.56,403.26 L371.23,405.26 L371.89,407.28 L372.56,409.32 L373.23,411.36 L373.89,413.42 L374.56,415.49 L375.23,417.57 L375.89,419.67 L376.56,421.77 L377.23,423.89 L377.89,426.01 L378.56,428.15 L379.22,430.29 L379.89,432.45 L380.56,434.61 L381.22,436.78 L381.89,438.95 L382.56,441.14 L383.22,443.33 L383.89,445.53 L384.56,447.73 L385.22,449.93 L385.89,452.15 L386.55,454.36 L387.22,456.58 L387.89,458.81 L388.55,461.04 L389.22,463.26 L389.89,465.50 L390.55,467.73 L391.22,469.97 L391.89,472.20 L392.55,474.44 L393.22,476.67 L393.88,478.91 L394.55,481.15 L395.22,483.39 L395.88,485.63 L396.55,487.87 L397.22,490.11 L397.88,492.35 L398.55,494.59 L399.22,496.83 L399.88,499.07 L400.55,501.30 L401.21,503.54 L401.88,505.78 L402.55,508.02 L403.21,510.25 L403.88,512.49 L404.55,514.72 L405.21,516.96 L405.88,519.19 L406.55,521.42 L407.21,523.65 L407.88,525.88 L408.54,528.11 L409.21,530.33 L409.88,532.56 L410.54,534.78 L411.21,537.00 L411.88,539.22 L412.54,541.43 L413.21,543.65 L413.88,545.86 L414.54,548.07 L415.21,550.27 L415.87,552.48 L416.54,554.67 L417.21,556.87 L417.87,559.06 L418.54,561.25 L419.21,563.43 L419.87,565.61 L420.54,567.79 L421.21,569.96 L421.87,572.12 L422.54,574.28 L423.20,576.43 L423.87,578.58 L424.54,580.73 L425.20,582.86 L425.87,584.99 L426.54,587.12 L427.20,589.24 L427.87,591.35 L428.54,593.45 L429.20,595.55 L429.87,597.64 L430.53,599.72 L431.20,601.79 L431.87,603.86 L432.53,605.92 L433.20,607.97 L433.87,610.01 L434.53,612.05 L435.20,614.07 L435.87,616.08 L436.53,618.09 L437.20,620.09 L437.86,622.07 L438.53,624.05 L439.20,626.02 L439.86,627.97 L440.53,629.92 L441.20,631.85 L441.86,633.78 L442.53,635.69 L443.20,637.59 L443.86,639.47 L444.53,641.34 L445.19,643.20 L445.86,645.04 L446.53,646.87 L447.19,648.68 L447.86,650.48 L448.53,652.26 L449.19,654.02 L449.86,655.76 L450.53,657.49 L451.19,659.19 L451.86,660.88 L452.52,662.54 L453.19,664.19 L453.86,665.82 L454.52,667.42 L455.19,669.00 L455.86,670.56 L456.52,672.10 L457.19,673.61 L457.86,675.10 L458.52,676.57 L459.19,678.01 L459.85,679.42 L460.52,680.81 L461.19,682.18 L461.85,683.53 L462.52,684.85 L463.19,686.15 L463.85,687.43 L464.52,688.69 L465.19,689.93 L465.85,691.15 L466.52,692.35 L467.18,693.54 L467.85,694.70 L468.52,695.85 L469.18,696.98 L469.85,698.09 L470.52,699.19 L471.18,700.28 L471.85,701.34 L472.52,702.40 L473.18,703.44 L473.85,704.47 L474.51,705.48 L475.18,706.48 L475.85,707.47 L476.51,708.45 L477.18,709.42 L477.85,710.38 L478.51,711.33 L479.18,712.28 L479.85,713.21 L480.51,714.13 L481.18,715.05 L481.84,715.96 L482.51,716.87 L483.18,717.77 L483.84,718.66 L484.51,719.55 L485.18,720.42 L485.84,721.29 L486.51,722.14 L487.18,722.96 L487.84,723.77 L488.51,724.54 L489.17,725.29 L489.84,726.01 L490.51,726.68 L491.17,727.32 L491.84,727.91 L492.51,728.46 L493.17,728.96 L493.84,729.40 L494.51,729.79 L495.17,730.12 L495.84,730.40 L496.50,730.62 L497.17,730.80 L497.84,730.93 L498.50,731.02 L499.17,731.07 L499.84,731.08 L500.50,731.05 L501.17,730.98 L501.84,730.88 L502.50,730.76 L503.17,730.60 L503.83,730.42 L504.50,730.22 L505.17,730.00 L505.83,729.76 L506.50,729.50" fill="none" stroke="#C44E52" stroke-width="6.0" stroke-linecap="round" stroke-linejoin="round"/>
<circle cx="144.00" cy="730.20" r="8.60" fill="#C44E52"/>
<circle cx="160.10" cy="718.80" r="8.60" fill="#C44E52"/>
<circle cx="181.50" cy="675.40" r="8.60" fill="#C44E52"/>
<circle cx="196.80" cy="628.60" r="8.60" fill="#C44E52"/>
<circle cx="222.80" cy="533.80" r="8.60" fill="#C44E52"/>
<circle cx="239.30" cy="471.20" r="8.60" fill="#C44E52"/>
<circle cx="267.60" cy="378.50" r="8.60" fill="#C44E52"/>
<circle cx="287.80" cy="333.00" r="8.60" fill="#C44E52"/>
<circle cx="313.20" cy="307.80" r="8.60" fill="#C44E52"/>
<circle cx="339.60" cy="329.00" r="8.60" fill="#C44E52"/>
<circle cx="362.10" cy="379.20" r="8.60" fill="#C44E52"/>
<circle cx="391.20" cy="469.90" r="8.60" fill="#C44E52"/>
<circle cx="410.70" cy="535.30" r="8.60" fill="#C44E52"/>
<circle cx="439.60" cy="627.20" r="8.60" fill="#C44E52"/>
<circle cx="458.40" cy="676.30" r="8.60" fill="#C44E52"/>
<circle cx="483.50" cy="718.20" r="8.60" fill="#C44E52"/>
<circle cx="503.80" cy="729.80" r="8.60" fill="#C44E52"/>
<path d="M561.30,728.00 L561.97,728.84 L562.63,729.60 L563.30,730.28 L563.96,730.89 L564.63,731.41 L565.29,731.87 L565.96,732.25 L566.63,732.57 L567.29,732.83 L567.96,733.02 L568.62,733.16 L569.29,733.23 L569.95,733.26 L570.62,733.24 L571.29,733.16 L571.95,733.04 L572.62,732.88 L573.28,732.68 L573.95,732.44 L574.61,732.17 L575.28,731.87 L575.95,731.54 L576.61,731.18 L577.28,730.79 L577.94,730.39 L578.61,729.97 L579.27,729.53 L579.94,729.08 L580.61,728.62 L581.27,728.15 L581.94,727.68 L582.60,727.20 L583.27,726.73 L583.93,726.26 L584.60,725.79 L585.27,725.34 L585.93,724.89 L586.60,724.46 L587.26,724.05 L587.93,723.65 L588.59,723.28 L589.26,722.93 L589.93,722.60 L590.59,722.27 L591.26,721.96 L591.92,721.65 L592.59,721.34 L593.26,721.02 L593.92,720.70 L594.59,720.36 L595.25,720.00 L595.92,719.62 L596.58,719.22 L597.25,718.79 L597.92,718.32 L598.58,717.81 L599.25,717.26 L599.91,716.66 L600.58,716.01 L601.24,715.31 L601.91,714.54 L602.58,713.71 L603.24,712.81 L603.91,711.84 L604.57,710.79 L605.24,709.67 L605.90,708.49 L606.57,707.23 L607.24,705.92 L607.90,704.55 L608.57,703.13 L609.23,701.66 L609.90,700.14 L610.56,698.58 L611.23,696.98 L611.90,695.35 L612.56,693.68 L613.23,691.99 L613.89,690.28 L614.56,688.55 L615.22,686.80 L615.89,685.04 L616.56,683.27 L617.22,681.50 L617.89,679.73 L618.55,677.96 L619.22,676.20 L619.88,674.45 L620.55,672.71 L621.22,670.99 L621.88,669.29 L622.55,667.62 L623.21,665.97 L623.88,664.35 L624.54,662.74 L625.21,661.15 L625.88,659.58 L626.54,658.03 L627.21,656.48 L627.87,654.95 L628.54,653.43 L629.20,651.91 L629.87,650.40 L630.54,648.90 L631.20,647.40 L631.87,645.90 L632.53,644.40 L633.20,642.89 L633.86,641.39 L634.53,639.87 L635.20,638.35 L635.86,636.82 L636.53,635.28 L637.19,633.72 L637.86,632.15 L638.52,630.57 L639.19,628.96 L639.86,627.34 L640.52,625.69 L641.19,624.03 L641.85,622.33 L642.52,620.62 L643.18,618.88 L643.85,617.12 L644.52,615.34 L645.18,613.55 L645.85,611.73 L646.51,609.89 L647.18,608.04 L647.84,606.17 L648.51,604.29 L649.18,602.39 L649.84,600.48 L650.51,598.55 L651.17,596.61 L651.84,594.66 L652.51,592.70 L653.17,590.73 L653.84,588.75 L654.50,586.76 L655.17,584.77 L655.83,582.76 L656.50,580.76 L657.17,578.74 L657.83,576.72 L658.50,574.70 L659.16,572.68 L659.83,570.65 L660.49,568.63 L661.16,566.60 L661.83,564.57 L662.49,562.55 L663.16,560.52 L663.82,558.50 L664.49,556.49 L665.15,554.48 L665.82,552.47 L666.49,550.47 L667.15,548.48 L667.82,546.50 L668.48,544.52 L669.15,542.56 L669.81,540.61 L670.48,538.66 L671.15,536.73 L671.81,534.82 L672.48,532.92 L673.14,531.03 L673.81,529.16 L674.47,527.30 L675.14,525.47 L675.81,523.65 L676.47,521.85 L677.14,520.06 L677.80,518.30 L678.47,516.55 L679.13,514.83 L679.80,513.12 L680.47,511.42 L681.13,509.75 L681.80,508.10 L682.46,506.46 L683.13,504.84 L683.79,503.24 L684.46,501.66 L685.13,500.10 L685.79,498.55 L686.46,497.02 L687.12,495.51 L687.79,494.02 L688.45,492.54 L689.12,491.09 L689.79,489.65 L690.45,488.23 L691.12,486.83 L691.78,485.44 L692.45,484.07 L693.11,482.72 L693.78,481.39 L694.45,480.08 L695.11,478.78 L695.78,477.50 L696.44,476.24 L697.11,475.00 L697.77,473.77 L698.44,472.56 L699.11,471.37 L699.77,470.20 L700.44,469.04 L701.10,467.90 L701.77,466.78 L702.43,465.67 L703.10,464.59 L703.77,463.52 L704.43,462.46 L705.10,461.42 L705.76,460.40 L706.43,459.40 L707.09,458.41 L707.76,457.44 L708.43,456.49 L709.09,455.56 L709.76,454.64 L710.42,453.74 L711.09,452.85 L711.76,451.99 L712.42,451.14 L713.09,450.32 L713.75,449.51 L714.42,448.72 L715.08,447.96 L715.75,447.21 L716.42,446.49 L717.08,445.78 L717.75,445.10 L718.41,444.44 L719.08,443.80 L719.74,443.19 L720.41,442.60 L721.08,442.03 L721.74,441.49 L722.41,440.97 L723.07,440.47 L723.74,440.00 L724.40,439.56 L725.07,439.14 L725.74,438.75 L726.40,438.38 L727.07,438.03 L727.73,437.71 L728.40,437.40 L729.06,437.13 L729.73,436.87 L730.40,436.64 L731.06,436.43 L731.73,436.24 L732.39,436.07 L733.06,435.92 L733.72,435.79 L734.39,435.68 L735.06,435.60 L735.72,435.53 L736.39,435.48 L737.05,435.44 L737.72,435.43 L738.38,435.43 L739.05,435.46 L739.72,435.49 L740.38,435.55 L741.05,435.62 L741.71,435.71 L742.38,435.82 L743.04,435.94 L743.71,436.08 L744.38,436.24 L745.04,436.41 L745.71,436.61 L746.37,436.82 L747.04,437.05 L747.70,437.30 L748.37,437.57 L749.04,437.85 L749.70,438.16 L750.37,438.48 L751.03,438.82 L751.70,439.19 L752.36,439.57 L753.03,439.97 L753.70,440.39 L754.36,440.83 L755.03,441.29 L755.69,441.77 L756.36,442.28 L757.02,442.80 L757.69,443.34 L758.36,443.91 L759.02,444.49 L759.69,445.10 L760.35,445.72 L761.02,446.37 L761.68,447.04 L762.35,447.72 L763.02,448.43 L763.68,449.16 L764.35,449.91 L765.01,450.68 L765.68,451.47 L766.34,452.28 L767.01,453.11 L767.68,453.96 L768.34,454.84 L769.01,455.73 L769.67,456.64 L770.34,457.57 L771.01,458.53 L771.67,459.50 L772.34,460.49 L773.00,461.51 L773.67,462.54 L774.33,463.59 L775.00,464.67 L775.67,465.76 L776.33,466.88 L777.00,468.01 L777.66,469.17 L778.33,470.34 L778.99,471.54 L779.66,472.75 L780.33,473.99 L780.99,475.25 L781.66,476.53 L782.32,477.83 L782.99,479.15 L783.65,480.50 L784.32,481.86 L784.99,483.24 L785.65,484.65 L786.32,486.08 L786.98,487.53 L787.65,489.00 L788.31,490.49 L788.98,492.01 L789.65,493.54 L790.31,495.10 L790.98,496.68 L791.64,498.29 L792.31,499.91 L792.97,501.56 L793.64,503.22 L794.31,504.91 L794.97,506.61 L795.64,508.33 L796.30,510.07 L796.97,511.83 L797.63,513.59 L798.30,515.38 L798.97,517.17 L799.63,518.98 L800.30,520.80 L800.96,522.63 L801.63,524.47 L802.29,526.32 L802.96,528.18 L803.63,530.04 L804.29,531.91 L804.96,533.79 L805.62,535.67 L806.29,537.55 L806.95,539.44 L807.62,541.33 L808.29,543.22 L808.95,545.11 L809.62,547.00 L810.28,548.89 L810.95,550.78 L811.61,552.67 L812.28,554.55 L812.95,556.44 L813.61,558.33 L814.28,560.22 L814.94,562.11 L815.61,564.00 L816.27,565.89 L816.94,567.78 L817.61,569.68 L818.27,571.57 L818.94,573.47 L819.60,575.37 L820.27,577.28 L820.93,579.18 L821.60,581.09 L822.27,583.01 L822.93,584.92 L823.60,586.85 L824.26,588.77 L824.93,590.70 L825.59,592.63 L826.26,594.57 L826.93,596.52 L827.59,598.47 L828.26,600.42 L828.92,602.38 L829.59,604.35 L830.26,606.32 L830.92,608.30 L831.59,610.28 L832.25,612.26 L832.92,614.25 L833.58,616.23 L834.25,618.22 L834.92,620.20 L835.58,622.18 L836.25,624.15 L836.91,626.12 L837.58,628.08 L838.24,630.04 L838.91,631.98 L839.58,633.92 L840.24,635.85 L840.91,637.76 L841.57,639.67 L842.24,641.55 L842.90,643.43 L843.57,645.28 L844.24,647.12 L844.90,648.95 L845.57,650.75 L846.23,652.53 L846.90,654.29 L847.56,656.03 L848.23,657.75 L848.90,659.44 L849.56,661.10 L850.23,662.74 L850.89,664.35 L851.56,665.94 L852.22,667.51 L852.89,669.05 L853.56,670.56 L854.22,672.05 L854.89,673.52 L855.55,674.96 L856.22,676.38 L856.88,677.78 L857.55,679.16 L858.22,680.51 L858.88,681.84 L859.55,683.15 L860.21,684.44 L860.88,685.71 L861.54,686.96 L862.21,688.18 L862.88,689.39 L863.54,690.57 L864.21,691.74 L864.87,692.89 L865.54,694.02 L866.20,695.13 L866.87,696.22 L867.54,697.29 L868.20,698.35 L868.87,699.38 L869.53,700.40 L870.20,701.41 L870.86,702.39 L871.53,703.36 L872.20,704.31 L872.86,705.25 L873.53,706.17 L874.19,707.07 L874.86,707.96 L875.52,708.83 L876.19,709.69 L876.86,710.53 L877.52,711.35 L878.19,712.16 L878.85,712.96 L879.52,713.73 L880.18,714.50 L880.85,715.25 L881.52,715.98 L882.18,716.70 L882.85,717.41 L883.51,718.10 L884.18,718.77 L884.84,719.43 L885.51,720.08 L886.18,720.72 L886.84,721.34 L887.51,721.95 L888.17,722.54 L888.84,723.12 L889.51,723.69 L890.17,724.24 L890.84,724.78 L891.50,725.30 L892.17,725.81 L892.83,726.30 L893.50,726.78 L894.17,727.25 L894.83,727.70 L895.50,728.14 L896.16,728.56 L896.83,728.96 L897.49,729.35 L898.16,729.73 L898.83,730.09 L899.49,730.43 L900.16,730.76 L900.82,731.07 L901.49,731.37 L902.15,731.65 L902.82,731.91 L903.49,732.16 L904.15,732.39 L904.82,732.60 L905.48,732.80 L906.15,732.98 L906.81,733.15 L907.48,733.29 L908.15,733.42 L908.81,733.54 L909.48,733.63 L910.14,733.71 L910.81,733.77 L911.47,733.81 L912.14,733.84 L912.81,733.84 L913.47,733.83 L914.14,733.80 L914.80,733.75 L915.47,733.69 L916.13,733.60 L916.80,733.50" fill="none" stroke="#121212" stroke-width="6.0" stroke-linecap="round" stroke-linejoin="round"/>
<path d="M561.00,727.20 L561.67,727.34 L562.33,727.47 L563.00,727.59 L563.66,727.70 L564.33,727.80 L565.00,727.89 L565.66,727.97 L566.33,728.04 L566.99,728.10 L567.66,728.16 L568.33,728.20 L568.99,728.24 L569.66,728.26 L570.32,728.28 L570.99,728.30 L571.66,728.30 L572.32,728.29 L572.99,728.28 L573.65,728.26 L574.32,728.24 L574.99,728.20 L575.65,728.16 L576.32,728.11 L576.99,728.06 L577.65,727.99 L578.32,727.93 L578.98,727.85 L579.65,727.77 L580.32,727.68 L580.98,727.59 L581.65,727.49 L582.31,727.39 L582.98,727.28 L583.65,727.17 L584.31,727.05 L584.98,726.92 L585.64,726.79 L586.31,726.66 L586.98,726.52 L587.64,726.38 L588.31,726.23 L588.97,726.08 L589.64,725.92 L590.31,725.76 L590.97,725.60 L591.64,725.42 L592.30,725.24 L592.97,725.05 L593.64,724.86 L594.30,724.65 L594.97,724.44 L595.63,724.21 L596.30,723.98 L596.97,723.73 L597.63,723.47 L598.30,723.20 L598.96,722.92 L599.63,722.62 L600.30,722.32 L600.96,721.99 L601.63,721.65 L602.29,721.30 L602.96,720.93 L603.63,720.54 L604.29,720.14 L604.96,719.72 L605.62,719.29 L606.29,718.84 L606.96,718.38 L607.62,717.92 L608.29,717.44 L608.96,716.96 L609.62,716.47 L610.29,715.98 L610.95,715.48 L611.62,714.98 L612.29,714.49 L612.95,713.99 L613.62,713.50 L614.28,713.00 L614.95,712.51 L615.62,712.01 L616.28,711.51 L616.95,711.02 L617.61,710.52 L618.28,710.01 L618.95,709.51 L619.61,709.00 L620.28,708.49 L620.94,707.97 L621.61,707.45 L622.28,706.92 L622.94,706.39 L623.61,705.86 L624.27,705.32 L624.94,704.77 L625.61,704.22 L626.27,703.67 L626.94,703.12 L627.60,702.56 L628.27,701.99 L628.94,701.42 L629.60,700.85 L630.27,700.28 L630.93,699.70 L631.60,699.13 L632.27,698.54 L632.93,697.96 L633.60,697.38 L634.26,696.80 L634.93,696.22 L635.60,695.64 L636.26,695.07 L636.93,694.50 L637.60,693.94 L638.26,693.38 L638.93,692.83 L639.59,692.29 L640.26,691.77 L640.93,691.25 L641.59,690.74 L642.26,690.24 L642.92,689.75 L643.59,689.27 L644.26,688.79 L644.92,688.31 L645.59,687.84 L646.25,687.36 L646.92,686.88 L647.59,686.40 L648.25,685.91 L648.92,685.42 L649.58,684.92 L650.25,684.41 L650.92,683.88 L651.58,683.34 L652.25,682.79 L652.91,682.23 L653.58,681.65 L654.25,681.06 L654.91,680.46 L655.58,679.86 L656.24,679.26 L656.91,678.66 L657.58,678.06 L658.24,677.46 L658.91,676.87 L659.57,676.29 L660.24,675.72 L660.91,675.15 L661.57,674.58 L662.24,674.02 L662.90,673.47 L663.57,672.91 L664.24,672.36 L664.90,671.81 L665.57,671.26 L666.24,670.71 L666.90,670.16 L667.57,669.61 L668.23,669.05 L668.90,668.50 L669.57,667.94 L670.23,667.38 L670.90,666.81 L671.56,666.24 L672.23,665.66 L672.90,665.07 L673.56,664.48 L674.23,663.88 L674.89,663.27 L675.56,662.65 L676.23,662.02 L676.89,661.39 L677.56,660.74 L678.22,660.09 L678.89,659.44 L679.56,658.78 L680.22,658.11 L680.89,657.45 L681.55,656.78 L682.22,656.11 L682.89,655.45 L683.55,654.78 L684.22,654.12 L684.88,653.46 L685.55,652.80 L686.22,652.16 L686.88,651.51 L687.55,650.88 L688.21,650.25 L688.88,649.64 L689.55,649.03 L690.21,648.44 L690.88,647.86 L691.54,647.30 L692.21,646.74 L692.88,646.21 L693.54,645.69 L694.21,645.18 L694.88,644.69 L695.54,644.21 L696.21,643.74 L696.87,643.28 L697.54,642.84 L698.21,642.41 L698.87,641.99 L699.54,641.57 L700.20,641.17 L700.87,640.78 L701.54,640.39 L702.20,640.02 L702.87,639.65 L703.53,639.28 L704.20,638.93 L704.87,638.58 L705.53,638.24 L706.20,637.90 L706.86,637.56 L707.53,637.23 L708.20,636.90 L708.86,636.58 L709.53,636.26 L710.19,635.94 L710.86,635.63 L711.53,635.32 L712.19,635.02 L712.86,634.72 L713.52,634.43 L714.19,634.14 L714.86,633.85 L715.52,633.58 L716.19,633.31 L716.85,633.04 L717.52,632.79 L718.19,632.54 L718.85,632.29 L719.52,632.06 L720.18,631.83 L720.85,631.61 L721.52,631.40 L722.18,631.20 L722.85,631.01 L723.51,630.82 L724.18,630.65 L724.85,630.48 L725.51,630.33 L726.18,630.18 L726.85,630.05 L727.51,629.92 L728.18,629.80 L728.84,629.69 L729.51,629.59 L730.18,629.50 L730.84,629.42 L731.51,629.34 L732.17,629.28 L732.84,629.22 L733.51,629.17 L734.17,629.13 L734.84,629.10 L735.50,629.07 L736.17,629.06 L736.84,629.05 L737.50,629.05 L738.17,629.06 L738.83,629.07 L739.50,629.09 L740.17,629.12 L740.83,629.16 L741.50,629.20 L742.16,629.25 L742.83,629.31 L743.50,629.38 L744.16,629.45 L744.83,629.54 L745.49,629.63 L746.16,629.72 L746.83,629.83 L747.49,629.94 L748.16,630.06 L748.82,630.19 L749.49,630.32 L750.16,630.47 L750.82,630.62 L751.49,630.78 L752.15,630.95 L752.82,631.12 L753.49,631.30 L754.15,631.49 L754.82,631.69 L755.49,631.90 L756.15,632.11 L756.82,632.34 L757.48,632.57 L758.15,632.81 L758.82,633.05 L759.48,633.31 L760.15,633.57 L760.81,633.84 L761.48,634.12 L762.15,634.41 L762.81,634.70 L763.48,635.00 L764.14,635.31 L764.81,635.63 L765.48,635.95 L766.14,636.29 L766.81,636.62 L767.47,636.97 L768.14,637.32 L768.81,637.69 L769.47,638.05 L770.14,638.43 L770.80,638.81 L771.47,639.20 L772.14,639.60 L772.80,640.00 L773.47,640.41 L774.13,640.83 L774.80,641.26 L775.47,641.69 L776.13,642.12 L776.80,642.57 L777.46,643.02 L778.13,643.48 L778.80,643.94 L779.46,644.41 L780.13,644.88 L780.79,645.37 L781.46,645.85 L782.13,646.34 L782.79,646.84 L783.46,647.35 L784.12,647.85 L784.79,648.37 L785.46,648.89 L786.12,649.41 L786.79,649.94 L787.46,650.47 L788.12,651.01 L788.79,651.55 L789.45,652.10 L790.12,652.65 L790.79,653.20 L791.45,653.76 L792.12,654.32 L792.78,654.89 L793.45,655.46 L794.12,656.03 L794.78,656.61 L795.45,657.18 L796.11,657.76 L796.78,658.35 L797.45,658.93 L798.11,659.52 L798.78,660.11 L799.44,660.70 L800.11,661.29 L800.78,661.89 L801.44,662.48 L802.11,663.07 L802.77,663.67 L803.44,664.26 L804.11,664.86 L804.77,665.45 L805.44,666.05 L806.10,666.64 L806.77,667.23 L807.44,667.83 L808.10,668.42 L808.77,669.00 L809.43,669.59 L810.10,670.18 L810.77,670.76 L811.43,671.34 L812.10,671.92 L812.76,672.50 L813.43,673.07 L814.10,673.65 L814.76,674.22 L815.43,674.80 L816.10,675.37 L816.76,675.94 L817.43,676.51 L818.09,677.08 L818.76,677.65 L819.43,678.22 L820.09,678.79 L820.76,679.37 L821.42,679.94 L822.09,680.51 L822.76,681.08 L823.42,681.66 L824.09,682.23 L824.75,682.81 L825.42,683.39 L826.09,683.97 L826.75,684.55 L827.42,685.14 L828.08,685.72 L828.75,686.31 L829.42,686.90 L830.08,687.50 L830.75,688.09 L831.41,688.69 L832.08,689.29 L832.75,689.89 L833.41,690.50 L834.08,691.10 L834.74,691.70 L835.41,692.31 L836.08,692.92 L836.74,693.52 L837.41,694.13 L838.07,694.73 L838.74,695.34 L839.41,695.94 L840.07,696.55 L840.74,697.15 L841.40,697.75 L842.07,698.35 L842.74,698.94 L843.40,699.54 L844.07,700.13 L844.74,700.72 L845.40,701.30 L846.07,701.88 L846.73,702.46 L847.40,703.04 L848.07,703.61 L848.73,704.17 L849.40,704.73 L850.06,705.29 L850.73,705.84 L851.40,706.39 L852.06,706.93 L852.73,707.47 L853.39,708.00 L854.06,708.53 L854.73,709.05 L855.39,709.56 L856.06,710.07 L856.72,710.58 L857.39,711.07 L858.06,711.57 L858.72,712.05 L859.39,712.53 L860.05,713.00 L860.72,713.47 L861.39,713.93 L862.05,714.38 L862.72,714.82 L863.38,715.26 L864.05,715.69 L864.72,716.11 L865.38,716.53 L866.05,716.94 L866.71,717.34 L867.38,717.73 L868.05,718.12 L868.71,718.50 L869.38,718.87 L870.04,719.24 L870.71,719.59 L871.38,719.94 L872.04,720.29 L872.71,720.62 L873.38,720.95 L874.04,721.27 L874.71,721.58 L875.37,721.89 L876.04,722.18 L876.71,722.47 L877.37,722.76 L878.04,723.03 L878.70,723.30 L879.37,723.56 L880.04,723.81 L880.70,724.06 L881.37,724.30 L882.03,724.53 L882.70,724.75 L883.37,724.97 L884.03,725.18 L884.70,725.38 L885.36,725.58 L886.03,725.77 L886.70,725.96 L887.36,726.14 L888.03,726.32 L888.69,726.49 L889.36,726.66 L890.03,726.82 L890.69,726.98 L891.36,727.13 L892.02,727.29 L892.69,727.43 L893.36,727.58 L894.02,727.72 L894.69,727.86 L895.35,727.99 L896.02,728.12 L896.69,728.24 L897.35,728.37 L898.02,728.48 L898.68,728.60 L899.35,728.70 L900.02,728.81 L900.68,728.91 L901.35,729.00 L902.01,729.08 L902.68,729.17 L903.35,729.24 L904.01,729.31 L904.68,729.37 L905.35,729.43 L906.01,729.48 L906.68,729.52 L907.34,729.56 L908.01,729.58 L908.68,729.60 L909.34,729.62 L910.01,729.62 L910.67,729.62 L911.34,729.61 L912.01,729.59 L912.67,729.56 L913.34,729.52 L914.00,729.48 L914.67,729.42 L915.34,729.36 L916.00,729.28 L916.67,729.20 L917.33,729.10 L918.00,729.00" fill="none" stroke="#4C72B0" stroke-width="6.0" stroke-linecap="round" stroke-linejoin="round"/>
<path d="M561.00,727.20 L561.67,727.34 L562.33,727.47 L563.00,727.59 L563.66,727.70 L564.33,727.80 L565.00,727.89 L565.66,727.97 L566.33,728.04 L566.99,728.10 L567.66,728.16 L568.33,728.20 L568.99,728.24 L569.66,728.26 L570.32,728.28 L570.99,728.30 L571.66,728.30 L572.32,728.29 L572.99,728.28 L573.65,728.26 L574.32,728.24 L574.99,728.20 L575.65,728.16 L576.32,728.11 L576.99,728.06 L577.65,727.99 L578.32,727.93 L578.98,727.85 L579.65,727.77 L580.32,727.68 L580.98,727.59 L581.65,727.49 L582.31,727.39 L582.98,727.28 L583.65,727.17 L584.31,727.05 L584.98,726.92 L585.64,726.79 L586.31,726.66 L586.98,726.52 L587.64,726.38 L588.31,726.23 L588.97,726.08 L589.64,725.92 L590.31,725.76 L590.97,725.60 L591.64,725.42 L592.30,725.24 L592.97,725.05 L593.64,724.86 L594.30,724.65 L594.97,724.44 L595.63,724.21 L596.30,723.98 L596.97,723.73 L597.63,723.47 L598.30,723.20 L598.96,722.92 L599.63,722.62 L600.30,722.32 L600.96,721.99 L601.63,721.65 L602.29,721.30 L602.96,720.93 L603.63,720.54 L604.29,720.14 L604.96,719.72 L605.62,719.29 L606.29,718.84 L606.96,718.38 L607.62,717.92 L608.29,717.44 L608.96,716.96 L609.62,716.47 L610.29,715.98 L610.95,715.48 L611.62,714.98 L612.29,714.49 L612.95,713.99 L613.62,713.50 L614.28,713.00 L614.95,712.51 L615.62,712.01 L616.28,711.51 L616.95,711.02 L617.61,710.52 L618.28,710.01 L618.95,709.51 L619.61,709.00 L620.28,708.49 L620.94,707.97 L621.61,707.45 L622.28,706.92 L622.94,706.39 L623.61,705.86 L624.27,705.32 L624.94,704.77 L625.61,704.22 L626.27,703.67 L626.94,703.12 L627.60,702.56 L628.27,701.99 L628.94,701.42 L629.60,700.85 L630.27,700.28 L630.93,699.70 L631.60,699.13 L632.27,698.54 L632.93,697.96 L633.60,697.38 L634.26,696.80 L634.93,696.22 L635.60,695.64 L636.26,695.07 L636.93,694.50 L637.60,693.94 L638.26,693.38 L638.93,692.83 L639.59,692.29 L640.26,691.77 L640.93,691.25 L641.59,690.74 L642.26,690.24 L642.92,689.75 L643.59,689.27 L644.26,688.79 L644.92,688.31 L645.59,687.84 L646.25,687.36 L646.92,686.88 L647.59,686.40 L648.25,685.91 L648.92,685.42 L649.58,684.92 L650.25,684.41 L650.92,683.88 L651.58,683.34 L652.25,682.79 L652.91,682.23 L653.58,681.65 L654.25,681.06 L654.91,680.46 L655.58,679.86 L656.24,679.26 L656.91,678.66 L657.58,678.06 L658.24,677.46 L658.91,676.87 L659.57,676.29 L660.24,675.72 L660.91,675.15 L661.57,674.58 L662.24,674.02 L662.90,673.47 L663.57,672.91 L664.24,672.36 L664.90,671.81 L665.57,671.26 L666.24,670.71 L666.90,670.16 L667.57,669.61 L668.23,669.05 L668.90,668.50 L669.57,667.94 L670.23,667.38 L670.90,666.81 L671.56,666.24 L672.23,665.66 L672.90,665.07 L673.56,664.48 L674.23,663.88 L674.89,663.27 L675.56,662.65 L676.23,662.02 L676.89,661.39 L677.56,660.74 L678.22,660.09 L678.89,659.44 L679.56,658.78 L680.22,658.11 L680.89,657.45 L681.55,656.78 L682.22,656.11 L682.89,655.45 L683.55,654.78 L684.22,654.12 L684.88,653.46 L685.55,652.80 L686.22,652.16 L686.88,651.51 L687.55,650.88 L688.21,650.25 L688.88,649.64 L689.55,649.03 L690.21,648.44 L690.88,647.86 L691.54,647.30 L692.21,646.74 L692.88,646.21 L693.54,645.69 L694.21,645.18 L694.88,644.69 L695.54,644.21 L696.21,643.74 L696.87,643.28 L697.54,642.84 L698.21,642.41 L698.87,641.99 L699.54,641.57 L700.20,641.17 L700.87,640.78 L701.54,640.39 L702.20,640.02 L702.87,639.65 L703.53,639.28 L704.20,638.93 L704.87,638.58 L705.53,638.24 L706.20,637.90 L706.86,637.56 L707.53,637.23 L708.20,636.90 L708.86,636.58 L709.53,636.26 L710.19,635.94 L710.86,635.63 L711.53,635.32 L712.19,635.02 L712.86,634.72 L713.52,634.43 L714.19,634.14 L714.86,633.85 L715.52,633.58 L716.19,633.31 L716.85,633.04 L717.52,632.79 L718.19,632.54 L718.85,632.29 L719.52,632.06 L720.18,631.83 L720.85,631.61 L721.52,631.40 L722.18,631.20 L722.85,631.01 L723.51,630.82 L724.18,630.65 L724.85,630.48 L725.51,630.33 L726.18,630.18 L726.85,630.05 L727.51,629.92 L728.18,629.80 L728.84,629.69 L729.51,629.59 L730.18,629.50 L730.84,629.42 L731.51,629.34 L732.17,629.28 L732.84,629.22 L733.51,629.17 L734.17,629.13 L734.84,629.10 L735.50,629.07 L736.17,629.06 L736.84,629.05 L737.50,629.05 L738.17,629.06 L738.83,629.07 L739.50,629.09 L740.17,629.12 L740.83,629.16 L741.50,629.20 L742.16,629.25 L742.83,629.31 L743.50,629.38 L744.16,629.45 L744.83,629.54 L745.49,629.63 L746.16,629.72 L746.83,629.83 L747.49,629.94 L748.16,630.06 L748.82,630.19 L749.49,630.32 L750.16,630.47 L750.82,630.62 L751.49,630.78 L752.15,630.95 L752.82,631.12 L753.49,631.30 L754.15,631.49 L754.82,631.69 L755.49,631.90 L756.15,632.11 L756.82,632.34 L757.48,632.57 L758.15,632.81 L758.82,633.05 L759.48,633.31 L760.15,633.57 L760.81,633.84 L761.48,634.12 L762.15,634.41 L762.81,634.70 L763.48,635.00 L764.14,635.31 L764.81,635.63 L765.48,635.95 L766.14,636.29 L766.81,636.62 L767.47,636.97 L768.14,637.32 L768.81,637.69 L769.47,638.05 L770.14,638.43 L770.80,638.81 L771.47,639.20 L772.14,639.60 L772.80,640.00 L773.47,640.41 L774.13,640.83 L774.80,641.26 L775.47,641.69 L776.13,642.12 L776.80,642.57 L777.46,643.02 L778.13,643.48 L778.80,643.94 L779.46,644.41 L780.13,644.88 L780.79,645.37 L781.46,645.85 L782.13,646.34 L782.79,646.84 L783.46,647.35 L784.12,647.85 L784.79,648.37 L785.46,648.89 L786.12,649.41 L786.79,649.94 L787.46,650.47 L788.12,651.01 L788.79,651.55 L789.45,652.10 L790.12,652.65 L790.79,653.20 L791.45,653.76 L792.12,654.32 L792.78,654.89 L793.45,655.46 L794.12,656.03 L794.78,656.61 L795.45,657.18 L796.11,657.76 L796.78,658.35 L797.45,658.93 L798.11,659.52 L798.78,660.11 L799.44,660.70 L800.11,661.29 L800.78,661.89 L801.44,662.48 L802.11,663.07 L802.77,663.67 L803.44,664.26 L804.11,664.86 L804.77,665.45 L805.44,666.05 L806.10,666.64 L806.77,667.23 L807.44,667.83 L808.10,668.42 L808.77,669.00 L809.43,669.59 L810.10,670.18 L810.77,670.76 L811.43,671.34 L812.10,671.92 L812.76,672.50 L813.43,673.07 L814.10,673.65 L814.76,674.22 L815.43,674.80 L816.10,675.37 L816.76,675.94 L817.43,676.51 L818.09,677.08 L818.76,677.65 L819.43,678.22 L820.09,678.79 L820.76,679.37 L821.42,679.94 L822.09,680.51 L822.76,681.08 L823.42,681.66 L824.09,682.23 L824.75,682.81 L825.42,683.39 L826.09,683.97 L826.75,684.55 L827.42,685.14 L828.08,685.72 L828.75,686.31 L829.42,686.90 L830.08,687.50 L830.75,688.09 L831.41,688.69 L832.08,689.29 L832.75,689.89 L833.41,690.50 L834.08,691.10 L834.74,691.70 L835.41,692.31 L836.08,692.92 L836.74,693.52 L837.41,694.13 L838.07,694.73 L838.74,695.34 L839.41,695.94 L840.07,696.55 L840.74,697.15 L841.40,697.75 L842.07,698.35 L842.74,698.94 L843.40,699.54 L844.07,700.13 L844.74,700.72 L845.40,701.30 L846.07,701.88 L846.73,702.46 L847.40,703.04 L848.07,703.61 L848.73,704.17 L849.40,704.73 L850.06,705.29 L850.73,705.84 L851.40,706.39 L852.06,706.93 L852.73,707.47 L853.39,708.00 L854.06,708.53 L854.73,709.05 L855.39,709.56 L856.06,710.07 L856.72,710.58 L857.39,711.07 L858.06,711.57 L858.72,712.05 L859.39,712.53 L860.05,713.00 L860.72,713.47 L861.39,713.93 L862.05,714.38 L862.72,714.82 L863.38,715.26 L864.05,715.69 L864.72,716.11 L865.38,716.53 L866.05,716.94 L866.71,717.34 L867.38,717.73 L868.05,718.12 L868.71,718.50 L869.38,718.87 L870.04,719.24 L870.71,719.59 L871.38,719.94 L872.04,720.29 L872.71,720.62 L873.38,720.95 L874.04,721.27 L874.71,721.58 L875.37,721.89 L876.04,722.18 L876.71,722.47 L877.37,722.76 L878.04,723.03 L878.70,723.30 L879.37,723.56 L880.04,723.81 L880.70,724.06 L881.37,724.30 L882.03,724.53 L882.70,724.75 L883.37,724.97 L884.03,725.18 L884.70,725.38 L885.36,725.58 L886.03,725.77 L886.70,725.96 L887.36,726.14 L888.03,726.32 L888.69,726.49 L889.36,726.66 L890.03,726.82 L890.69,726.98 L891.36,727.13 L892.02,727.29 L892.69,727.43 L893.36,727.58 L894.02,727.72 L894.69,727.86 L895.35,727.99 L896.02,728.12 L896.69,728.24 L897.35,728.37 L898.02,728.48 L898.68,728.60 L899.35,728.70 L900.02,728.81 L900.68,728.91 L901.35,729.00 L902.01,729.08 L902.68,729.17 L903.35,729.24 L904.01,729.31 L904.68,729.37 L905.35,729.43 L906.01,729.48 L906.68,729.52 L907.34,729.56 L908.01,729.58 L908.68,729.60 L909.34,729.62 L910.01,729.62 L910.67,729.62 L911.34,729.61 L912.01,729.59 L912.67,729.56 L913.34,729.52 L914.00,729.48 L914.67,729.42 L915.34,729.36 L916.00,729.28 L916.67,729.20 L917.33,729.10 L918.00,729.00" fill="none" stroke="#55A868" stroke-width="6.0" stroke-linecap="round" stroke-linejoin="round"/>
<path d="M561.30,564.60 L561.97,563.62 L562.63,562.73 L563.30,561.91 L563.96,561.18 L564.63,560.51 L565.29,559.93 L565.96,559.41 L566.63,558.97 L567.29,558.59 L567.96,558.28 L568.62,558.03 L569.29,557.84 L569.95,557.71 L570.62,557.65 L571.29,557.63 L571.95,557.68 L572.62,557.77 L573.28,557.91 L573.95,558.10 L574.61,558.34 L575.28,558.62 L575.95,558.95 L576.61,559.31 L577.28,559.71 L577.94,560.15 L578.61,560.62 L579.27,561.13 L579.94,561.66 L580.61,562.22 L581.27,562.81 L581.94,563.42 L582.60,564.06 L583.27,564.71 L583.93,565.39 L584.60,566.08 L585.27,566.78 L585.93,567.50 L586.60,568.22 L587.26,568.96 L587.93,569.70 L588.59,570.44 L589.26,571.19 L589.93,571.94 L590.59,572.70 L591.26,573.46 L591.92,574.23 L592.59,575.00 L593.26,575.77 L593.92,576.56 L594.59,577.34 L595.25,578.14 L595.92,578.94 L596.58,579.75 L597.25,580.56 L597.92,581.38 L598.58,582.21 L599.25,583.05 L599.91,583.89 L600.58,584.74 L601.24,585.61 L601.91,586.48 L602.58,587.36 L603.24,588.25 L603.91,589.14 L604.57,590.05 L605.24,590.97 L605.90,591.90 L606.57,592.84 L607.24,593.78 L607.90,594.73 L608.57,595.69 L609.23,596.65 L609.90,597.62 L610.56,598.60 L611.23,599.58 L611.90,600.57 L612.56,601.55 L613.23,602.55 L613.89,603.54 L614.56,604.54 L615.22,605.54 L615.89,606.54 L616.56,607.54 L617.22,608.54 L617.89,609.54 L618.55,610.54 L619.22,611.54 L619.88,612.54 L620.55,613.54 L621.22,614.53 L621.88,615.52 L622.55,616.51 L623.21,617.49 L623.88,618.47 L624.54,619.44 L625.21,620.41 L625.88,621.38 L626.54,622.34 L627.21,623.30 L627.87,624.25 L628.54,625.20 L629.20,626.14 L629.87,627.08 L630.54,628.02 L631.20,628.95 L631.87,629.87 L632.53,630.79 L633.20,631.70 L633.86,632.61 L634.53,633.51 L635.20,634.40 L635.86,635.29 L636.53,636.18 L637.19,637.05 L637.86,637.93 L638.52,638.79 L639.19,639.65 L639.86,640.50 L640.52,641.35 L641.19,642.19 L641.85,643.02 L642.52,643.85 L643.18,644.67 L643.85,645.49 L644.52,646.30 L645.18,647.11 L645.85,647.92 L646.51,648.72 L647.18,649.52 L647.84,650.33 L648.51,651.13 L649.18,651.93 L649.84,652.74 L650.51,653.54 L651.17,654.35 L651.84,655.16 L652.51,655.97 L653.17,656.79 L653.84,657.61 L654.50,658.44 L655.17,659.28 L655.83,660.12 L656.50,660.97 L657.17,661.82 L657.83,662.69 L658.50,663.56 L659.16,664.44 L659.83,665.33 L660.49,666.23 L661.16,667.14 L661.83,668.05 L662.49,668.97 L663.16,669.89 L663.82,670.82 L664.49,671.76 L665.15,672.69 L665.82,673.63 L666.49,674.57 L667.15,675.51 L667.82,676.45 L668.48,677.39 L669.15,678.33 L669.81,679.27 L670.48,680.20 L671.15,681.13 L671.81,682.06 L672.48,682.98 L673.14,683.90 L673.81,684.81 L674.47,685.72 L675.14,686.62 L675.81,687.51 L676.47,688.39 L677.14,689.27 L677.80,690.13 L678.47,690.99 L679.13,691.84 L679.80,692.68 L680.47,693.51 L681.13,694.33 L681.80,695.14 L682.46,695.95 L683.13,696.74 L683.79,697.53 L684.46,698.31 L685.13,699.07 L685.79,699.83 L686.46,700.58 L687.12,701.31 L687.79,702.04 L688.45,702.76 L689.12,703.46 L689.79,704.16 L690.45,704.84 L691.12,705.52 L691.78,706.18 L692.45,706.84 L693.11,707.48 L693.78,708.11 L694.45,708.74 L695.11,709.35 L695.78,709.95 L696.44,710.55 L697.11,711.13 L697.77,711.71 L698.44,712.28 L699.11,712.84 L699.77,713.39 L700.44,713.94 L701.10,714.48 L701.77,715.01 L702.43,715.53 L703.10,716.05 L703.77,716.56 L704.43,717.07 L705.10,717.57 L705.76,718.07 L706.43,718.56 L707.09,719.05 L707.76,719.53 L708.43,720.01 L709.09,720.48 L709.76,720.95 L710.42,721.41 L711.09,721.87 L711.76,722.32 L712.42,722.77 L713.09,723.21 L713.75,723.64 L714.42,724.07 L715.08,724.49 L715.75,724.90 L716.42,725.30 L717.08,725.69 L717.75,726.08 L718.41,726.45 L719.08,726.82 L719.74,727.17 L720.41,727.52 L721.08,727.85 L721.74,728.17 L722.41,728.48 L723.07,728.77 L723.74,729.06 L724.40,729.33 L725.07,729.59 L725.74,729.83 L726.40,730.07 L727.07,730.29 L727.73,730.49 L728.40,730.69 L729.06,730.87 L729.73,731.04 L730.40,731.20 L731.06,731.34 L731.73,731.47 L732.39,731.59 L733.06,731.70 L733.72,731.79 L734.39,731.88 L735.06,731.95 L735.72,732.00 L736.39,732.05 L737.05,732.09 L737.72,732.11 L738.38,732.12 L739.05,732.12 L739.72,732.10 L740.38,732.08 L741.05,732.04 L741.71,731.99 L742.38,731.93 L743.04,731.86 L743.71,731.78 L744.38,731.68 L745.04,731.58 L745.71,731.46 L746.37,731.34 L747.04,731.20 L747.70,731.05 L748.37,730.89 L749.04,730.72 L749.70,730.55 L750.37,730.36 L751.03,730.16 L751.70,729.95 L752.36,729.73 L753.03,729.51 L753.70,729.27 L754.36,729.02 L755.03,728.77 L755.69,728.50 L756.36,728.23 L757.02,727.95 L757.69,727.66 L758.36,727.36 L759.02,727.05 L759.69,726.73 L760.35,726.40 L761.02,726.06 L761.68,725.72 L762.35,725.36 L763.02,724.99 L763.68,724.61 L764.35,724.23 L765.01,723.83 L765.68,723.42 L766.34,723.00 L767.01,722.57 L767.68,722.13 L768.34,721.67 L769.01,721.21 L769.67,720.73 L770.34,720.24 L771.01,719.74 L771.67,719.23 L772.34,718.71 L773.00,718.17 L773.67,717.62 L774.33,717.06 L775.00,716.48 L775.67,715.89 L776.33,715.29 L777.00,714.68 L777.66,714.05 L778.33,713.42 L778.99,712.77 L779.66,712.11 L780.33,711.44 L780.99,710.76 L781.66,710.07 L782.32,709.37 L782.99,708.66 L783.65,707.94 L784.32,707.22 L784.99,706.48 L785.65,705.74 L786.32,704.98 L786.98,704.22 L787.65,703.46 L788.31,702.68 L788.98,701.90 L789.65,701.11 L790.31,700.31 L790.98,699.51 L791.64,698.71 L792.31,697.89 L792.97,697.07 L793.64,696.25 L794.31,695.42 L794.97,694.59 L795.64,693.76 L796.30,692.92 L796.97,692.08 L797.63,691.23 L798.30,690.38 L798.97,689.53 L799.63,688.68 L800.30,687.83 L800.96,686.98 L801.63,686.12 L802.29,685.26 L802.96,684.41 L803.63,683.55 L804.29,682.70 L804.96,681.84 L805.62,680.99 L806.29,680.13 L806.95,679.28 L807.62,678.43 L808.29,677.58 L808.95,676.74 L809.62,675.90 L810.28,675.06 L810.95,674.23 L811.61,673.39 L812.28,672.56 L812.95,671.73 L813.61,670.91 L814.28,670.08 L814.94,669.26 L815.61,668.43 L816.27,667.61 L816.94,666.79 L817.61,665.97 L818.27,665.15 L818.94,664.33 L819.60,663.51 L820.27,662.69 L820.93,661.86 L821.60,661.04 L822.27,660.22 L822.93,659.39 L823.60,658.56 L824.26,657.73 L824.93,656.90 L825.59,656.07 L826.26,655.23 L826.93,654.39 L827.59,653.55 L828.26,652.70 L828.92,651.85 L829.59,651.00 L830.26,650.14 L830.92,649.28 L831.59,648.42 L832.25,647.55 L832.92,646.68 L833.58,645.80 L834.25,644.92 L834.92,644.04 L835.58,643.15 L836.25,642.26 L836.91,641.37 L837.58,640.48 L838.24,639.58 L838.91,638.68 L839.58,637.77 L840.24,636.87 L840.91,635.96 L841.57,635.04 L842.24,634.13 L842.90,633.21 L843.57,632.29 L844.24,631.37 L844.90,630.44 L845.57,629.52 L846.23,628.59 L846.90,627.65 L847.56,626.72 L848.23,625.78 L848.90,624.85 L849.56,623.91 L850.23,622.97 L850.89,622.02 L851.56,621.08 L852.22,620.14 L852.89,619.19 L853.56,618.24 L854.22,617.30 L854.89,616.35 L855.55,615.40 L856.22,614.45 L856.88,613.51 L857.55,612.56 L858.22,611.61 L858.88,610.67 L859.55,609.72 L860.21,608.78 L860.88,607.84 L861.54,606.90 L862.21,605.96 L862.88,605.03 L863.54,604.09 L864.21,603.16 L864.87,602.23 L865.54,601.31 L866.20,600.38 L866.87,599.46 L867.54,598.55 L868.20,597.63 L868.87,596.72 L869.53,595.82 L870.20,594.92 L870.86,594.02 L871.53,593.13 L872.20,592.24 L872.86,591.35 L873.53,590.47 L874.19,589.59 L874.86,588.72 L875.52,587.85 L876.19,586.98 L876.86,586.12 L877.52,585.26 L878.19,584.40 L878.85,583.55 L879.52,582.70 L880.18,581.85 L880.85,581.01 L881.52,580.17 L882.18,579.33 L882.85,578.50 L883.51,577.66 L884.18,576.84 L884.84,576.01 L885.51,575.19 L886.18,574.37 L886.84,573.55 L887.51,572.73 L888.17,571.92 L888.84,571.12 L889.51,570.32 L890.17,569.53 L890.84,568.76 L891.50,567.99 L892.17,567.24 L892.83,566.51 L893.50,565.79 L894.17,565.09 L894.83,564.42 L895.50,563.76 L896.16,563.13 L896.83,562.53 L897.49,561.95 L898.16,561.41 L898.83,560.89 L899.49,560.41 L900.16,559.96 L900.82,559.54 L901.49,559.16 L902.15,558.83 L902.82,558.53 L903.49,558.27 L904.15,558.06 L904.82,557.90 L905.48,557.78 L906.15,557.71 L906.81,557.69 L907.48,557.72 L908.15,557.81 L908.81,557.95 L909.48,558.15 L910.14,558.41 L910.81,558.73 L911.47,559.11 L912.14,559.56 L912.81,560.07 L913.47,560.65 L914.14,561.29 L914.80,562.01 L915.47,562.80 L916.13,563.66 L916.80,564.60" fill="none" stroke="#C44E52" stroke-width="6.0" stroke-linecap="round" stroke-linejoin="round"/>
<circle cx="561.30" cy="564.60" r="8.60" fill="#C44E52"/>
<circle cx="575.00" cy="558.50" r="8.60" fill="#C44E52"/>
<circle cx="588.20" cy="570.00" r="8.60" fill="#C44E52"/>
<circle cx="603.80" cy="589.00" r="8.60" fill="#C44E52"/>
<circle cx="621.80" cy="615.40" r="8.60" fill="#C44E52"/>
<circle cx="640.80" cy="641.70" r="8.60" fill="#C44E52"/>
<circle cx="658.30" cy="663.30" r="8.60" fill="#C44E52"/>
<circle cx="675.20" cy="686.70" r="8.60" fill="#C44E52"/>
<circle cx="691.90" cy="706.30" r="8.60" fill="#C44E52"/>
<circle cx="708.00" cy="719.70" r="8.60" fill="#C44E52"/>
<circle cx="723.60" cy="729.00" r="8.60" fill="#C44E52"/>
<circle cx="739.80" cy="732.10" r="8.60" fill="#C44E52"/>
<circle cx="756.90" cy="728.00" r="8.60" fill="#C44E52"/>
<circle cx="774.40" cy="717.00" r="8.60" fill="#C44E52"/>
<circle cx="791.40" cy="699.00" r="8.60" fill="#C44E52"/>
<circle cx="809.30" cy="676.30" r="8.60" fill="#C44E52"/>
<circle cx="829.20" cy="651.50" r="8.60" fill="#C44E52"/>
<circle cx="849.00" cy="624.70" r="8.60" fill="#C44E52"/>
<circle cx="869.40" cy="596.00" r="8.60" fill="#C44E52"/>
<circle cx="886.80" cy="573.60" r="8.60" fill="#C44E52"/>
<circle cx="901.80" cy="559.00" r="8.60" fill="#C44E52"/>
<circle cx="916.80" cy="564.60" r="8.60" fill="#C44E52"/>
<text x="106.3" y="403.1" font-size="32" text-anchor="end">100</text>
<text x="106.3" y="572.4" font-size="32" text-anchor="end">50</text>
<text x="106.3" y="742.5" font-size="32" text-anchor="end">0</text>
<text x="144.1" y="782.0" font-size="32" text-anchor="middle">0</text>
<text x="392.4" y="782.2" font-size="32" text-anchor="middle">2</text>
<text x="561.5" y="784.0" font-size="32" text-anchor="middle">0</text>
<text x="803.4" y="783.9" font-size="32" text-anchor="middle">2</text>
<text x="154.04" y="836.2" font-size="36.9" textLength="29.95" lengthAdjust="spacingAndGlyphs">Li</text>
<text x="196.75" y="836.2" font-size="36.9" textLength="152.76" lengthAdjust="spacingAndGlyphs">Migration</text>
<text x="362.23" y="836.2" font-size="36.9" textLength="71.56" lengthAdjust="spacingAndGlyphs">path</text>
<text x="446.75" y="836.2" font-size="36.9" textLength="45.51" lengthAdjust="spacingAndGlyphs">[Å]</text>
<text x="567.91" y="838.5" font-size="36.9" textLength="30.28" lengthAdjust="spacingAndGlyphs">Li</text>
<text x="611.09" y="838.5" font-size="36.9" textLength="154.44" lengthAdjust="spacingAndGlyphs">Migration</text>
<text x="778.39" y="838.5" font-size="36.9" textLength="72.34" lengthAdjust="spacingAndGlyphs">path</text>
<text x="863.83" y="838.5" font-size="36.9" textLength="46.01" lengthAdjust="spacingAndGlyphs">[Å]</text>
<text transform="translate(28.0,667.46) rotate(-90)" x="0" y="0" font-size="37.6" textLength="106.73" lengthAdjust="spacingAndGlyphs">Energy</text>
<text transform="translate(28.0,546.49) rotate(-90)" x="0" y="0" font-size="37.6" textLength="48.30" lengthAdjust="spacingAndGlyphs">[kJ</text>
<text transform="translate(28.0,479.92) rotate(-90)" x="0" y="0" font-size="37.6" textLength="56.25" lengthAdjust="spacingAndGlyphs">mol</text>
<text transform="translate(28.0,403.64) rotate(-90)" x="0" y="0" font-size="37.6" textLength="36.17" lengthAdjust="spacingAndGlyphs">K]</text>
<path d="M35.6,496.3 L1.2,483.5 M35.8,419.9 L1.2,406.4" stroke="#000" stroke-width="2.6" fill="none"/>
</svg>
</body></html>
